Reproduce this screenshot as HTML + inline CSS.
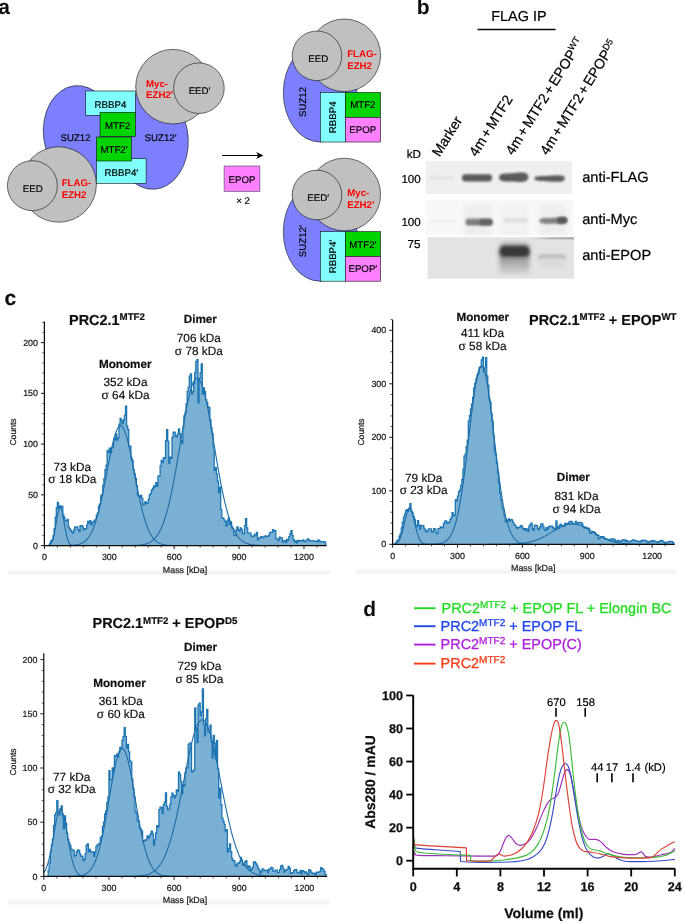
<!DOCTYPE html>
<html><head><meta charset="utf-8"><title>figure</title>
<style>html,body{margin:0;padding:0;background:#fff}svg{display:block}text{font-family:"Liberation Sans",sans-serif;text-rendering:geometricPrecision}#pb text{fill:#000;stroke:#000;stroke-width:0.22px}#pc text{stroke:#111;stroke-width:0.2px}#pd .mk{fill:#000;stroke:#000;stroke-width:0.2px}</style></head><body>
<svg width="685" height="924" viewBox="0 0 685 924" font-family='"Liberation Sans", sans-serif' fill="#111">
<rect width="685" height="924" fill="#fff"/>
<defs><filter id="soft" x="0" y="0" width="685" height="924" filterUnits="userSpaceOnUse"><feGaussianBlur stdDeviation="0.35"/></filter></defs>
<g filter="url(#soft)">
<text x="-1.7" y="14.3" font-size="21" font-weight="bold">a</text>
<text x="416.7" y="14.4" font-size="21" font-weight="bold">b</text>
<g id="pa" font-size="9.7" stroke-width="0.6">
<ellipse cx="80" cy="134" rx="36.5" ry="48.5" transform="rotate(-7 80 134)" fill="#7b80ff" stroke="#111"/>
<ellipse cx="151.5" cy="140" rx="36.8" ry="49.3" transform="rotate(-3 151.5 140)" fill="#7b80ff" stroke="#111"/>
<rect x="80" y="100" width="72" height="70" fill="#7b80ff"/>
<circle cx="173" cy="86.7" r="37.3" fill="#c0c0c0" stroke="#111"/>
<circle cx="198.9" cy="88.2" r="25.3" fill="#c0c0c0" stroke="#111"/>
<circle cx="58.7" cy="184.5" r="37.7" fill="#c0c0c0" stroke="#111"/>
<circle cx="32.4" cy="185.7" r="25" fill="#c0c0c0" stroke="#111"/>
<rect x="85.7" y="91" width="49.6" height="24.3" fill="#80ffff" stroke="#111"/>
<rect x="96.5" y="158.7" width="49.6" height="24.6" fill="#80ffff" stroke="#111"/>
<rect x="100" y="112.3" width="35.4" height="24" fill="#00d400" stroke="#111"/>
<rect x="96.4" y="137" width="35" height="24" fill="#00d400" stroke="#111"/>
<text x="110.5" y="107.6" text-anchor="middle" fill="#000" stroke="#000" stroke-width="0.18">RBBP4</text>
<text x="117.7" y="129" text-anchor="middle" fill="#000" stroke="#000" stroke-width="0.18">MTF2</text>
<text x="114" y="153.2" text-anchor="middle" fill="#000" stroke="#000" stroke-width="0.18">MTF2&#8242;</text>
<text x="121.3" y="176" text-anchor="middle" fill="#000" stroke="#000" stroke-width="0.18">RBBP4&#8242;</text>
<text x="75.5" y="140.5" text-anchor="middle" fill="#000" stroke="#000" stroke-width="0.18">SUZ12</text>
<text x="160.5" y="140.5" text-anchor="middle" fill="#000" stroke="#000" stroke-width="0.18">SUZ12&#8242;</text>
<text x="32.8" y="191.6" text-anchor="middle" fill="#000" stroke="#000" stroke-width="0.18">EED</text>
<text x="199.5" y="93.7" text-anchor="middle" fill="#000" stroke="#000" stroke-width="0.18">EED&#8242;</text>
<text x="61.7" y="186.3" text-anchor="start" fill="#ff0000" stroke="none" font-weight="bold" font-size="9.7">FLAG-</text>
<text x="61.7" y="198.1" text-anchor="start" fill="#ff0000" stroke="none" font-weight="bold" font-size="9.7">EZH2</text>
<text x="146" y="86.8" text-anchor="start" fill="#ff0000" stroke="none" font-weight="bold" font-size="9.7">Myc-</text>
<text x="146" y="98.3" text-anchor="start" fill="#ff0000" stroke="none" font-weight="bold" font-size="9.7">EZH2&#8242;</text>
<line x1="222" y1="155.5" x2="260" y2="155.5" stroke="#000" stroke-width="1.2"/>
<path d="M263.4 155.5 L256.2 151.9 L258.2 155.5 L256.2 159.1 Z" fill="#000" stroke="none"/>
<rect x="224.1" y="166" width="35.8" height="25.3" fill="#ff80ff" stroke="#446" />
<text x="242" y="183.4" text-anchor="middle" fill="#000" stroke="#000" stroke-width="0.18">EPOP</text>
<text x="243" y="204.4" text-anchor="middle" fill="#000" stroke="#000" stroke-width="0.18">&#215; 2</text>
<g transform="translate(0,0)">
<ellipse cx="320.1" cy="92.7" rx="36.8" ry="49.3" fill="#7b80ff" stroke="#111"/>
<circle cx="344.3" cy="55.3" r="36.3" fill="#c0c0c0" stroke="#111"/>
<circle cx="317" cy="55.8" r="24.8" fill="#c0c0c0" stroke="#111"/>
<rect x="320.3" y="92.4" width="25" height="49.6" fill="#80ffff" stroke="#111"/>
<rect x="345.3" y="92.4" width="35.3" height="24.9" fill="#00d400" stroke="#111"/>
<rect x="345.3" y="117.3" width="35.3" height="24.7" fill="#ff80ff" stroke="#111"/>
<text x="318.2" y="62.1" text-anchor="middle" fill="#000" stroke="#000" stroke-width="0.18">EED</text>
<text x="347.2" y="57.2" text-anchor="start" fill="#ff0000" stroke="none" font-weight="bold" font-size="9.7">FLAG-</text>
<text x="347.2" y="68.6" text-anchor="start" fill="#ff0000" stroke="none" font-weight="bold" font-size="9.7">EZH2</text>
<text x="362.8" y="108.4" text-anchor="middle" fill="#000" stroke="#000" stroke-width="0.18">MTF2</text>
<text x="362.8" y="132.8" text-anchor="middle" fill="#000" stroke="#000" stroke-width="0.18">EPOP</text>
<text transform="translate(306,102) rotate(-90)" text-anchor="middle" fill="#000" stroke="#000" stroke-width="0.18">SUZ12</text>
<text transform="translate(336,117.3) rotate(-90)" text-anchor="middle" fill="#000" stroke="#000" stroke-width="0.18">RBBP4</text>
</g>
<g transform="translate(0,139.2)">
<ellipse cx="320.1" cy="92.7" rx="36.8" ry="49.3" fill="#7b80ff" stroke="#111"/>
<circle cx="344.3" cy="55.3" r="36.3" fill="#c0c0c0" stroke="#111"/>
<circle cx="317" cy="55.8" r="24.8" fill="#c0c0c0" stroke="#111"/>
<rect x="320.3" y="92.4" width="25" height="49.6" fill="#80ffff" stroke="#111"/>
<rect x="345.3" y="92.4" width="35.3" height="24.9" fill="#00d400" stroke="#111"/>
<rect x="345.3" y="117.3" width="35.3" height="24.7" fill="#ff80ff" stroke="#111"/>
<text x="318.2" y="62.1" text-anchor="middle" fill="#000" stroke="#000" stroke-width="0.18">EED&#8242;</text>
<text x="347.2" y="57.2" text-anchor="start" fill="#ff0000" stroke="none" font-weight="bold" font-size="9.7">Myc-</text>
<text x="347.2" y="68.6" text-anchor="start" fill="#ff0000" stroke="none" font-weight="bold" font-size="9.7">EZH2&#8242;</text>
<text x="362.8" y="108.4" text-anchor="middle" fill="#000" stroke="#000" stroke-width="0.18">MTF2&#8242;</text>
<text x="362.8" y="132.8" text-anchor="middle" fill="#000" stroke="#000" stroke-width="0.18">EPOP&#8242;</text>
<text transform="translate(306,102) rotate(-90)" text-anchor="middle" fill="#000" stroke="#000" stroke-width="0.18">SUZ12&#8242;</text>
<text transform="translate(336,117.3) rotate(-90)" text-anchor="middle" fill="#000" stroke="#000" stroke-width="0.18">RBBP4&#8242;</text>
</g>
</g>
<g id="pb">
<text x="491.3" y="21" font-size="14.4">FLAG IP</text>
<line x1="477.5" y1="29.6" x2="555.6" y2="29.6" stroke="#111" stroke-width="1.5"/>
<text transform="translate(439.5,157.5) rotate(-58)" font-size="14.15">Marker</text>
<text transform="translate(476.5,157.5) rotate(-58)" font-size="14.15">4m<tspan dx="2.1">+</tspan><tspan dx="2.1">&#8203;</tspan>MTF2</text>
<text transform="translate(513,156) rotate(-58)" font-size="14.15">4m<tspan dx="2.1">+</tspan><tspan dx="2.1">&#8203;</tspan>MTF2<tspan dx="2.1">+</tspan><tspan dx="2.1">&#8203;</tspan>EPOP<tspan font-size="9" dy="-5">WT</tspan></text>
<text transform="translate(547.5,156) rotate(-58)" font-size="14.15">4m<tspan dx="2.1">+</tspan><tspan dx="2.1">&#8203;</tspan>MTF2<tspan dx="2.1">+</tspan><tspan dx="2.1">&#8203;</tspan>EPOP<tspan font-size="9" dy="-5">D5</tspan></text>
<text x="406.8" y="157.7" font-size="11.6">kD</text>
<text x="401.4" y="183" font-size="11.6">100</text>
<text x="401.4" y="225.6" font-size="11.6">100</text>
<text x="407.6" y="248.2" font-size="11.6">75</text>
<text x="582.2" y="182" font-size="14.6">anti-FLAG</text>
<text x="582.2" y="223.7" font-size="14.6">anti-Myc</text>
<text x="582.2" y="259.6" font-size="14.6">anti-EPOP</text>
<defs><filter id="b1" x="-20%" y="-60%" width="140%" height="220%"><feGaussianBlur stdDeviation="1.1 0.9"/></filter><filter id="b2" x="-20%" y="-80%" width="140%" height="260%"><feGaussianBlur stdDeviation="1.7 1.4"/></filter><filter id="b3" x="-30%" y="-80%" width="160%" height="260%"><feGaussianBlur stdDeviation="2.5 3.5"/></filter><filter id="b4" x="-30%" y="-80%" width="160%" height="260%"><feGaussianBlur stdDeviation="2.2 2.2"/></filter><clipPath id="g1"><rect x="425.5" y="161" width="146.6" height="33"/></clipPath><clipPath id="g2"><rect x="425.5" y="200" width="147.9" height="35.4"/></clipPath><clipPath id="g3"><rect x="427.6" y="237.2" width="146.4" height="41.5"/></clipPath><linearGradient id="smear" x1="0" y1="0" x2="0" y2="1"><stop offset="0" stop-color="#787878"/><stop offset="0.45" stop-color="#a8a8a8"/><stop offset="1" stop-color="#d4d4d4"/></linearGradient></defs>
<rect x="425.5" y="161" width="146.6" height="33" fill="#efefef"/>
<g clip-path="url(#g1)">
<rect x="430" y="176.8" width="24" height="2.4" rx="1.2" fill="#dedede" filter="url(#b1)"/>
<rect x="462" y="174.2" width="30" height="7.2" rx="3.4" fill="#5a5a5a" filter="url(#b1)"/>
<path d="M499 177.4 C499 172.6 506 173.6 513 173.2 C520 172.4 528.3 171.4 528.3 176.8 C528.3 183 521 182.4 513 181.6 C506 181.2 499 182 499 177.4Z" fill="#5a5a5a" filter="url(#b1)"/>
<path d="M534.4 178.4 C534.4 175.6 541 176.4 549 175.8 C557 175.2 564.8 174.6 564.8 178.4 C564.8 182.4 557 182 549 181.4 C541 180.8 534.4 181.2 534.4 178.4Z" fill="#5c5c5c" filter="url(#b1)"/>
</g>
<rect x="425.5" y="200" width="147.9" height="35.4" fill="#f8f8f8"/>
<g clip-path="url(#g2)">
<rect x="464" y="204" width="29" height="34" fill="#eeeeee" filter="url(#b3)"/>
<rect x="539" y="204" width="28" height="34" fill="#eeeeee" filter="url(#b3)"/>
<rect x="500" y="204" width="28" height="34" fill="#f2f2f2" filter="url(#b3)"/>
<rect x="430" y="220.3" width="26" height="2" fill="#ececec" filter="url(#b1)"/>
<rect x="465.4" y="218.6" width="27" height="7" rx="3" fill="#8c8c8c" filter="url(#b1)"/>
<rect x="479" y="219.2" width="13.4" height="6" rx="2.8" fill="#646464" filter="url(#b1)"/>
<rect x="467" y="221" width="12" height="3" rx="1.5" fill="#7a7a7a" filter="url(#b1)"/>
<rect x="503" y="218.6" width="25" height="3.6" rx="1.7" fill="#dadada" filter="url(#b2)"/>
<path d="M539.3 220.8 C539.3 217.2 548 218.2 556 217.8 C562 217.2 567.5 216.4 567.5 220.2 C567.5 224.2 562 224 556 223.8 C548 224 539.3 224.6 539.3 220.8Z" fill="#828282" filter="url(#b1)"/>
<rect x="557" y="217" width="10" height="6.4" rx="3" fill="#5a5a5a" filter="url(#b1)"/>
</g>
<rect x="427.6" y="237.2" width="146.4" height="41.5" fill="#e3e3e3"/>
<g clip-path="url(#g3)">
<rect x="499" y="243" width="31" height="14" rx="5" fill="#9a9a9a" filter="url(#b4)"/>
<rect x="499.5" y="252" width="30" height="22" fill="url(#smear)" filter="url(#b4)"/>
<rect x="499.8" y="246" width="29.6" height="10.6" rx="5" fill="#383838" filter="url(#b2)"/>
<rect x="538" y="254.6" width="28" height="5" rx="2.4" fill="#b6b6b6" filter="url(#b2)"/>
<rect x="540" y="258" width="25" height="10" fill="#dadada" filter="url(#b4)"/>
<defs><linearGradient id="tl" x1="0" y1="0" x2="1" y2="0"><stop offset="0" stop-color="#555" stop-opacity="0"/><stop offset="0.5" stop-color="#555" stop-opacity="0.9"/><stop offset="1" stop-color="#444"/></linearGradient></defs>
<rect x="530" y="237" width="45" height="1.3" fill="url(#tl)" filter="url(#b1)"/>
</g>
</g>
<g id="pc">
<defs><linearGradient id="fade" x1="0" y1="0" x2="0" y2="1"><stop offset="0" stop-color="#fff"/><stop offset="0.7" stop-color="#f2f2f2"/><stop offset="1" stop-color="#fafafa"/></linearGradient></defs>
<rect x="8" y="569" width="322" height="6" fill="url(#fade)"/>
<rect x="356" y="568" width="320" height="6" fill="url(#fade)"/>
<rect x="8" y="899" width="322" height="6" fill="url(#fade)"/>
<path d="M48.73 545.60V545.60H49.81V543.05H50.89V540.66H51.97V539.99H53.05V535.61H54.13V528.57H55.21V517.24H56.30V507.62H57.38V502.46H58.46V508.55H59.54V505.92H60.62V506.20H61.70V506.43H62.79V514.81H63.87V517.48H64.95V520.83H66.03V520.95H67.11V519.30H68.19V526.78H69.27V528.85H70.36V530.37H71.44V531.82H72.52V533.19H73.60V529.80H74.68V527.26H75.76V526.91H76.84V526.96H77.93V529.61H79.01V531.50H80.09V525.62H81.17V525.71H82.25V526.53H83.33V529.90H84.42V528.55H85.50V528.71H86.58V525.12H87.66V521.46H88.74V522.88H89.82V520.75H90.90V524.91H91.99V522.53H93.07V521.54H94.15V520.49H95.23V519.39H96.31V515.20H97.39V512.98H98.47V506.17H99.56V503.91H100.64V495.86H101.72V494.67H102.80V485.10H103.88V478.61H104.96V469.57H106.05V465.25H107.13V450.59H108.21V452.46H109.29V448.25H110.37V453.16H111.45V447.85H112.53V447.23H113.62V438.87H114.70V439.73H115.78V433.91H116.86V440.13H117.94V437.64H119.02V424.27H120.10V418.52H121.19V420.53H122.27V423.67H123.35V419.62H124.43V415.32H125.51V406.13H126.59V425.93H127.68V429.28H128.76V446.12H129.84V446.25H130.92V457.85H132.00V460.12H133.08V469.62H134.16V473.63H135.25V478.42H136.33V485.57H137.41V495.18H138.49V496.01H139.57V496.99H140.65V495.51H141.73V498.53H142.82V504.89H143.90V504.02H144.98V501.69H146.06V503.66H147.14V503.27H148.22V499.34H149.31V494.85H150.39V493.35H151.47V489.99H152.55V488.23H153.63V485.82H154.71V486.95H155.79V482.59H156.88V486.09H157.96V476.12H159.04V475.99H160.12V465.93H161.20V460.38H162.28V462.48H163.36V457.66H164.45V458.00H165.53V440.33H166.61V429.56H167.69V441.19H168.77V463.42H169.85V457.17H170.94V458.37H172.02V437.48H173.10V432.08H174.18V432.08H175.26V435.98H176.34V436.96H177.42V433.79H178.51V429.02H179.59V433.84H180.67V440.75H181.75V443.51H182.83V427.14H183.91V415.86H185.00V412.49H186.08V403.86H187.16V391.38H188.24V387.14H189.32V376.03H190.40V373.81H191.48V393.77H192.57V391.56H193.65V383.69H194.73V372.48H195.81V361.72H196.89V359.54H197.97V402.90H199.05V378.46H200.14V372.60H201.22V363.81H202.30V394.03H203.38V388.00H204.46V391.70H205.54V399.64H206.62V402.51H207.71V406.87H208.79V407.77H209.87V419.87H210.95V427.89H212.03V433.77H213.11V446.63H214.20V470.38H215.28V467.63H216.36V473.91H217.44V481.10H218.52V492.71H219.60V487.06H220.68V509.34H221.77V517.72H222.85V518.38H223.93V520.04H225.01V521.65H226.09V526.00H227.17V520.33H228.25V518.25H229.34V524.72H230.42V521.79H231.50V528.12H232.58V528.39H233.66V535.03H234.74V535.63H235.83V530.23H236.91V526.88H237.99V529.95H239.07V531.25H240.15V527.80H241.23V529.45H242.31V533.78H243.40V533.27H244.48V525.86H245.56V518.59H246.64V527.84H247.72V532.84H248.80V533.16H249.88V533.05H250.97V535.86H252.05V536.49H253.13V536.63H254.21V534.41H255.29V535.13H256.37V532.42H257.46V539.81H258.54V537.88H259.62V537.82H260.70V536.55H261.78V537.14H262.86V537.69H263.94V536.45H265.03V536.00H266.11V536.40H267.19V536.63H268.27V535.74H269.35V533.12H270.43V532.19H271.51V532.11H272.60V529.55H273.68V530.92H274.76V530.74H275.84V538.60H276.92V539.46H278.00V540.53H279.09V537.13H280.17V537.81H281.25V537.97H282.33V542.11H283.41V540.94H284.49V540.57H285.57V542.66H286.66V539.47H287.74V540.02H288.82V536.69H289.90V533.52H290.98V530.70H292.06V535.64H293.14V539.76H294.23V541.78H295.31V540.89H296.39V542.76H297.47V540.76H298.55V540.29H299.63V541.14H300.72V540.74H301.80V540.67H302.88V539.86H303.96V541.49H305.04V541.42H306.12V540.63H307.20V538.90H308.29V539.59H309.37V540.80H310.45V540.53H311.53V540.70H312.61V540.68H313.69V541.11H314.77V541.29H315.86V541.20H316.94V541.76H318.02V539.88H319.10V541.00H320.18V541.54H321.26V541.90H322.35V541.81H323.43V541.71H324.51V542.23H325.59V545.60Z" fill="#7ab0d4" stroke="none"/>
<path d="M48.73 545.60V545.60H49.81V543.05H50.89V540.66H51.97V539.99H53.05V535.61H54.13V528.57H55.21V517.24H56.30V507.62H57.38V502.46H58.46V508.55H59.54V505.92H60.62V506.20H61.70V506.43H62.79V514.81H63.87V517.48H64.95V520.83H66.03V520.95H67.11V519.30H68.19V526.78H69.27V528.85H70.36V530.37H71.44V531.82H72.52V533.19H73.60V529.80H74.68V527.26H75.76V526.91H76.84V526.96H77.93V529.61H79.01V531.50H80.09V525.62H81.17V525.71H82.25V526.53H83.33V529.90H84.42V528.55H85.50V528.71H86.58V525.12H87.66V521.46H88.74V522.88H89.82V520.75H90.90V524.91H91.99V522.53H93.07V521.54H94.15V520.49H95.23V519.39H96.31V515.20H97.39V512.98H98.47V506.17H99.56V503.91H100.64V495.86H101.72V494.67H102.80V485.10H103.88V478.61H104.96V469.57H106.05V465.25H107.13V450.59H108.21V452.46H109.29V448.25H110.37V453.16H111.45V447.85H112.53V447.23H113.62V438.87H114.70V439.73H115.78V433.91H116.86V440.13H117.94V437.64H119.02V424.27H120.10V418.52H121.19V420.53H122.27V423.67H123.35V419.62H124.43V415.32H125.51V406.13H126.59V425.93H127.68V429.28H128.76V446.12H129.84V446.25H130.92V457.85H132.00V460.12H133.08V469.62H134.16V473.63H135.25V478.42H136.33V485.57H137.41V495.18H138.49V496.01H139.57V496.99H140.65V495.51H141.73V498.53H142.82V504.89H143.90V504.02H144.98V501.69H146.06V503.66H147.14V503.27H148.22V499.34H149.31V494.85H150.39V493.35H151.47V489.99H152.55V488.23H153.63V485.82H154.71V486.95H155.79V482.59H156.88V486.09H157.96V476.12H159.04V475.99H160.12V465.93H161.20V460.38H162.28V462.48H163.36V457.66H164.45V458.00H165.53V440.33H166.61V429.56H167.69V441.19H168.77V463.42H169.85V457.17H170.94V458.37H172.02V437.48H173.10V432.08H174.18V432.08H175.26V435.98H176.34V436.96H177.42V433.79H178.51V429.02H179.59V433.84H180.67V440.75H181.75V443.51H182.83V427.14H183.91V415.86H185.00V412.49H186.08V403.86H187.16V391.38H188.24V387.14H189.32V376.03H190.40V373.81H191.48V393.77H192.57V391.56H193.65V383.69H194.73V372.48H195.81V361.72H196.89V359.54H197.97V402.90H199.05V378.46H200.14V372.60H201.22V363.81H202.30V394.03H203.38V388.00H204.46V391.70H205.54V399.64H206.62V402.51H207.71V406.87H208.79V407.77H209.87V419.87H210.95V427.89H212.03V433.77H213.11V446.63H214.20V470.38H215.28V467.63H216.36V473.91H217.44V481.10H218.52V492.71H219.60V487.06H220.68V509.34H221.77V517.72H222.85V518.38H223.93V520.04H225.01V521.65H226.09V526.00H227.17V520.33H228.25V518.25H229.34V524.72H230.42V521.79H231.50V528.12H232.58V528.39H233.66V535.03H234.74V535.63H235.83V530.23H236.91V526.88H237.99V529.95H239.07V531.25H240.15V527.80H241.23V529.45H242.31V533.78H243.40V533.27H244.48V525.86H245.56V518.59H246.64V527.84H247.72V532.84H248.80V533.16H249.88V533.05H250.97V535.86H252.05V536.49H253.13V536.63H254.21V534.41H255.29V535.13H256.37V532.42H257.46V539.81H258.54V537.88H259.62V537.82H260.70V536.55H261.78V537.14H262.86V537.69H263.94V536.45H265.03V536.00H266.11V536.40H267.19V536.63H268.27V535.74H269.35V533.12H270.43V532.19H271.51V532.11H272.60V529.55H273.68V530.92H274.76V530.74H275.84V538.60H276.92V539.46H278.00V540.53H279.09V537.13H280.17V537.81H281.25V537.97H282.33V542.11H283.41V540.94H284.49V540.57H285.57V542.66H286.66V539.47H287.74V540.02H288.82V536.69H289.90V533.52H290.98V530.70H292.06V535.64H293.14V539.76H294.23V541.78H295.31V540.89H296.39V542.76H297.47V540.76H298.55V540.29H299.63V541.14H300.72V540.74H301.80V540.67H302.88V539.86H303.96V541.49H305.04V541.42H306.12V540.63H307.20V538.90H308.29V539.59H309.37V540.80H310.45V540.53H311.53V540.70H312.61V540.68H313.69V541.11H314.77V541.29H315.86V541.20H316.94V541.76H318.02V539.88H319.10V541.00H320.18V541.54H321.26V541.90H322.35V541.81H323.43V541.71H324.51V542.23H325.59V545.60" fill="none" stroke="#1f77b4" stroke-width="1.3" stroke-linejoin="miter"/>
<path d="M44.40 545.59 L45.27 545.58 L46.13 545.54 L47.00 545.48 L47.86 545.34 L48.73 545.09 L49.59 544.65 L50.46 543.91 L51.32 542.72 L52.19 540.94 L53.05 538.42 L53.92 535.07 L54.78 530.90 L55.65 526.07 L56.51 520.91 L57.38 515.88 L58.24 511.56 L59.11 508.49 L59.97 507.09 L60.84 507.56 L61.70 509.84 L62.57 513.60 L63.43 518.34 L64.30 523.50 L65.16 528.55 L66.03 533.08 L66.90 536.85 L67.76 539.78 L68.63 541.91 L69.49 543.38 L70.36 544.32 L71.22 544.90 L72.09 545.24 L72.95 545.42 L73.82 545.52 L74.68 545.56 L75.55 545.58 L76.41 545.59" fill="none" stroke="#1c6ca8" stroke-width="1.1"/>
<path d="M62.40 545.58 L63.26 545.58 L64.13 545.57 L64.99 545.56 L65.86 545.55 L66.72 545.54 L67.59 545.52 L68.45 545.50 L69.32 545.47 L70.18 545.44 L71.05 545.40 L71.91 545.35 L72.78 545.29 L73.64 545.21 L74.51 545.12 L75.37 545.02 L76.24 544.88 L77.10 544.73 L77.97 544.54 L78.83 544.32 L79.70 544.06 L80.57 543.75 L81.43 543.38 L82.30 542.96 L83.16 542.47 L84.03 541.90 L84.89 541.25 L85.76 540.50 L86.62 539.64 L87.49 538.67 L88.35 537.57 L89.22 536.34 L90.08 534.95 L90.95 533.40 L91.81 531.69 L92.68 529.79 L93.54 527.71 L94.41 525.43 L95.27 522.95 L96.14 520.26 L97.00 517.36 L97.87 514.26 L98.73 510.95 L99.60 507.44 L100.46 503.74 L101.33 499.86 L102.20 495.81 L103.06 491.62 L103.93 487.30 L104.79 482.88 L105.66 478.39 L106.52 473.86 L107.39 469.33 L108.25 464.82 L109.12 460.38 L109.98 456.04 L110.85 451.86 L111.71 447.85 L112.58 444.08 L113.44 440.57 L114.31 437.36 L115.17 434.49 L116.04 431.99 L116.90 429.89 L117.77 428.20 L118.63 426.96 L119.50 426.17 L120.36 425.84 L121.23 425.98 L122.09 426.59 L122.96 427.65 L123.83 429.16 L124.69 431.10 L125.56 433.45 L126.42 436.17 L127.29 439.25 L128.15 442.64 L129.02 446.31 L129.88 450.23 L130.75 454.35 L131.61 458.63 L132.48 463.03 L133.34 467.52 L134.21 472.05 L135.07 476.59 L135.94 481.09 L136.80 485.55 L137.67 489.91 L138.53 494.15 L139.40 498.26 L140.26 502.21 L141.13 505.98 L141.99 509.57 L142.86 512.96 L143.72 516.15 L144.59 519.13 L145.46 521.90 L146.32 524.46 L147.19 526.82 L148.05 528.98 L148.92 530.95 L149.78 532.74 L150.65 534.35 L151.51 535.80 L152.38 537.10 L153.24 538.25 L154.11 539.27 L154.97 540.17 L155.84 540.96 L156.70 541.65 L157.57 542.25 L158.43 542.77 L159.30 543.22 L160.16 543.61 L161.03 543.94 L161.89 544.22 L162.76 544.46 L163.62 544.66 L164.49 544.82 L165.35 544.97 L166.22 545.08 L167.09 545.18 L167.95 545.26 L168.82 545.33 L169.68 545.38 L170.55 545.42 L171.41 545.46 L172.28 545.49 L173.14 545.51 L174.01 545.53 L174.87 545.55 L175.74 545.56 L176.60 545.57 L177.47 545.57 L178.33 545.58" fill="none" stroke="#1c6ca8" stroke-width="1.1"/>
<path d="M126.25 545.58 L127.11 545.57 L127.98 545.56 L128.84 545.55 L129.71 545.54 L130.57 545.53 L131.44 545.51 L132.30 545.50 L133.17 545.47 L134.03 545.45 L134.90 545.41 L135.77 545.37 L136.63 545.33 L137.50 545.27 L138.36 545.21 L139.23 545.13 L140.09 545.05 L140.96 544.94 L141.82 544.82 L142.69 544.68 L143.55 544.51 L144.42 544.32 L145.28 544.10 L146.15 543.85 L147.01 543.56 L147.88 543.23 L148.74 542.85 L149.61 542.42 L150.47 541.93 L151.34 541.37 L152.20 540.75 L153.07 540.05 L153.93 539.26 L154.80 538.38 L155.66 537.40 L156.53 536.31 L157.40 535.11 L158.26 533.78 L159.13 532.31 L159.99 530.71 L160.86 528.95 L161.72 527.04 L162.59 524.96 L163.45 522.70 L164.32 520.27 L165.18 517.65 L166.05 514.84 L166.91 511.84 L167.78 508.64 L168.64 505.25 L169.51 501.66 L170.37 497.88 L171.24 493.91 L172.10 489.75 L172.97 485.42 L173.83 480.93 L174.70 476.28 L175.56 471.49 L176.43 466.58 L177.29 461.56 L178.16 456.46 L179.03 451.30 L179.89 446.10 L180.76 440.90 L181.62 435.71 L182.49 430.56 L183.35 425.49 L184.22 420.53 L185.08 415.70 L185.95 411.04 L186.81 406.58 L187.68 402.35 L188.54 398.38 L189.41 394.69 L190.27 391.32 L191.14 388.29 L192.00 385.62 L192.87 383.33 L193.73 381.44 L194.60 379.97 L195.46 378.92 L196.33 378.30 L197.19 378.13 L198.06 378.39 L198.92 379.09 L199.79 380.23 L200.66 381.79 L201.52 383.76 L202.39 386.12 L203.25 388.87 L204.12 391.97 L204.98 395.40 L205.85 399.15 L206.71 403.17 L207.58 407.45 L208.44 411.96 L209.31 416.65 L210.17 421.51 L211.04 426.50 L211.90 431.58 L212.77 436.74 L213.63 441.94 L214.50 447.15 L215.36 452.34 L216.23 457.49 L217.09 462.57 L217.96 467.57 L218.82 472.46 L219.69 477.22 L220.55 481.84 L221.42 486.30 L222.29 490.60 L223.15 494.72 L224.02 498.65 L224.88 502.40 L225.75 505.95 L226.61 509.30 L227.48 512.46 L228.34 515.42 L229.21 518.19 L230.07 520.77 L230.94 523.17 L231.80 525.39 L232.67 527.43 L233.53 529.31 L234.40 531.04 L235.26 532.62 L236.13 534.05 L236.99 535.36 L237.86 536.54 L238.72 537.61 L239.59 538.57 L240.45 539.43 L241.32 540.20 L242.18 540.88 L243.05 541.49 L243.92 542.03 L244.78 542.51 L245.65 542.93 L246.51 543.30 L247.38 543.62 L248.24 543.90 L249.11 544.15 L249.97 544.36 L250.84 544.55 L251.70 544.71 L252.57 544.85 L253.43 544.96 L254.30 545.06 L255.16 545.15 L256.03 545.22 L256.89 545.29 L257.76 545.34 L258.62 545.38 L259.49 545.42 L260.35 545.45 L261.22 545.48 L262.08 545.50 L262.95 545.52 L263.81 545.53 L264.68 545.54 L265.55 545.56 L266.41 545.56 L267.28 545.57" fill="none" stroke="#1c6ca8" stroke-width="1.1"/>
<line x1="44.4" y1="321.5" x2="44.4" y2="546.2" stroke="#111" stroke-width="1.25"/>
<line x1="43.8" y1="545.6" x2="326.59" y2="545.6" stroke="#111" stroke-width="1.25"/>
<line x1="41.0" y1="545.60" x2="44.4" y2="545.60" stroke="#111" stroke-width="0.95"/>
<text x="38.0" y="548.70" text-anchor="end" font-size="8.9" fill="#222">0</text>
<line x1="42.4" y1="535.45" x2="44.4" y2="535.45" stroke="#111" stroke-width="0.75"/>
<line x1="42.4" y1="525.30" x2="44.4" y2="525.30" stroke="#111" stroke-width="0.75"/>
<line x1="42.4" y1="515.15" x2="44.4" y2="515.15" stroke="#111" stroke-width="0.75"/>
<line x1="42.4" y1="505.00" x2="44.4" y2="505.00" stroke="#111" stroke-width="0.75"/>
<line x1="41.0" y1="494.85" x2="44.4" y2="494.85" stroke="#111" stroke-width="0.95"/>
<text x="38.0" y="497.95" text-anchor="end" font-size="8.9" fill="#222">50</text>
<line x1="42.4" y1="484.70" x2="44.4" y2="484.70" stroke="#111" stroke-width="0.75"/>
<line x1="42.4" y1="474.55" x2="44.4" y2="474.55" stroke="#111" stroke-width="0.75"/>
<line x1="42.4" y1="464.40" x2="44.4" y2="464.40" stroke="#111" stroke-width="0.75"/>
<line x1="42.4" y1="454.25" x2="44.4" y2="454.25" stroke="#111" stroke-width="0.75"/>
<line x1="41.0" y1="444.10" x2="44.4" y2="444.10" stroke="#111" stroke-width="0.95"/>
<text x="38.0" y="447.20" text-anchor="end" font-size="8.9" fill="#222">100</text>
<line x1="42.4" y1="433.95" x2="44.4" y2="433.95" stroke="#111" stroke-width="0.75"/>
<line x1="42.4" y1="423.80" x2="44.4" y2="423.80" stroke="#111" stroke-width="0.75"/>
<line x1="42.4" y1="413.65" x2="44.4" y2="413.65" stroke="#111" stroke-width="0.75"/>
<line x1="42.4" y1="403.50" x2="44.4" y2="403.50" stroke="#111" stroke-width="0.75"/>
<line x1="41.0" y1="393.35" x2="44.4" y2="393.35" stroke="#111" stroke-width="0.95"/>
<text x="38.0" y="396.45" text-anchor="end" font-size="8.9" fill="#222">150</text>
<line x1="42.4" y1="383.20" x2="44.4" y2="383.20" stroke="#111" stroke-width="0.75"/>
<line x1="42.4" y1="373.05" x2="44.4" y2="373.05" stroke="#111" stroke-width="0.75"/>
<line x1="42.4" y1="362.90" x2="44.4" y2="362.90" stroke="#111" stroke-width="0.75"/>
<line x1="42.4" y1="352.75" x2="44.4" y2="352.75" stroke="#111" stroke-width="0.75"/>
<line x1="41.0" y1="342.60" x2="44.4" y2="342.60" stroke="#111" stroke-width="0.95"/>
<text x="38.0" y="345.70" text-anchor="end" font-size="8.9" fill="#222">200</text>
<line x1="42.4" y1="332.45" x2="44.4" y2="332.45" stroke="#111" stroke-width="0.75"/>
<line x1="42.4" y1="322.30" x2="44.4" y2="322.30" stroke="#111" stroke-width="0.75"/>
<line x1="44.40" y1="545.6" x2="44.40" y2="549.0" stroke="#111" stroke-width="0.95"/>
<text x="44.40" y="560.2" text-anchor="middle" font-size="8.9" fill="#222">0</text>
<line x1="57.38" y1="545.6" x2="57.38" y2="547.6" stroke="#111" stroke-width="0.75"/>
<line x1="70.36" y1="545.6" x2="70.36" y2="547.6" stroke="#111" stroke-width="0.75"/>
<line x1="83.33" y1="545.6" x2="83.33" y2="547.6" stroke="#111" stroke-width="0.75"/>
<line x1="96.31" y1="545.6" x2="96.31" y2="547.6" stroke="#111" stroke-width="0.75"/>
<line x1="109.29" y1="545.6" x2="109.29" y2="549.0" stroke="#111" stroke-width="0.95"/>
<text x="109.29" y="560.2" text-anchor="middle" font-size="8.9" fill="#222">300</text>
<line x1="122.27" y1="545.6" x2="122.27" y2="547.6" stroke="#111" stroke-width="0.75"/>
<line x1="135.25" y1="545.6" x2="135.25" y2="547.6" stroke="#111" stroke-width="0.75"/>
<line x1="148.22" y1="545.6" x2="148.22" y2="547.6" stroke="#111" stroke-width="0.75"/>
<line x1="161.20" y1="545.6" x2="161.20" y2="547.6" stroke="#111" stroke-width="0.75"/>
<line x1="174.18" y1="545.6" x2="174.18" y2="549.0" stroke="#111" stroke-width="0.95"/>
<text x="174.18" y="560.2" text-anchor="middle" font-size="8.9" fill="#222">600</text>
<line x1="187.16" y1="545.6" x2="187.16" y2="547.6" stroke="#111" stroke-width="0.75"/>
<line x1="200.14" y1="545.6" x2="200.14" y2="547.6" stroke="#111" stroke-width="0.75"/>
<line x1="213.11" y1="545.6" x2="213.11" y2="547.6" stroke="#111" stroke-width="0.75"/>
<line x1="226.09" y1="545.6" x2="226.09" y2="547.6" stroke="#111" stroke-width="0.75"/>
<line x1="239.07" y1="545.6" x2="239.07" y2="549.0" stroke="#111" stroke-width="0.95"/>
<text x="239.07" y="560.2" text-anchor="middle" font-size="8.9" fill="#222">900</text>
<line x1="252.05" y1="545.6" x2="252.05" y2="547.6" stroke="#111" stroke-width="0.75"/>
<line x1="265.03" y1="545.6" x2="265.03" y2="547.6" stroke="#111" stroke-width="0.75"/>
<line x1="278.00" y1="545.6" x2="278.00" y2="547.6" stroke="#111" stroke-width="0.75"/>
<line x1="290.98" y1="545.6" x2="290.98" y2="547.6" stroke="#111" stroke-width="0.75"/>
<line x1="303.96" y1="545.6" x2="303.96" y2="549.0" stroke="#111" stroke-width="0.95"/>
<text x="303.96" y="560.2" text-anchor="middle" font-size="8.9" fill="#222">1200</text>
<line x1="316.94" y1="545.6" x2="316.94" y2="547.6" stroke="#111" stroke-width="0.75"/>
<text x="185.00" y="572.6" text-anchor="middle" font-size="8.9" fill="#222">Mass [kDa]</text>
<text transform="translate(15.8,432) rotate(-90)" text-anchor="middle" font-size="8.6" fill="#222">Counts</text>
<text x="4.4" y="305.2" font-size="21" font-weight="bold">c</text>
<text x="69" y="324.7" font-size="14.45" font-weight="bold">PRC2.1<tspan font-size="9.7" dy="-4.6">MTF2</tspan></text>
<text x="125.2" y="368" text-anchor="middle" font-size="11.7" font-weight="bold">Monomer</text>
<text x="125.5" y="386.0" text-anchor="middle" font-size="11.8">352 kDa</text>
<text x="125.5" y="398.7" text-anchor="middle" font-size="11.8">&#963; 64 kDa</text>
<text x="200.3" y="322.8" text-anchor="middle" font-size="11.7" font-weight="bold">Dimer</text>
<text x="198.8" y="342.0" text-anchor="middle" font-size="11.8">706 kDa</text>
<text x="198.8" y="354.7" text-anchor="middle" font-size="11.8">&#963; 78 kDa</text>
<text x="72.3" y="470.7" text-anchor="middle" font-size="11.8">73 kDa</text>
<text x="72.3" y="483.4" text-anchor="middle" font-size="11.8">&#963; 18 kDa</text>
<path d="M394.76 544.30V544.30H395.84V542.45H396.93V540.21H398.01V540.18H399.09V536.14H400.17V533.53H401.25V527.92H402.33V522.21H403.42V517.18H404.50V514.19H405.58V510.54H406.66V509.59H407.74V511.26H408.82V508.49H409.90V503.64H410.99V511.21H412.07V512.97H413.15V516.65H414.23V519.47H415.31V525.41H416.39V526.69H417.47V520.73H418.56V525.10H419.64V528.98H420.72V525.40H421.80V525.71H422.88V526.00H423.96V528.84H425.05V530.11H426.13V531.83H427.21V531.16H428.29V528.78H429.37V528.91H430.45V528.91H431.53V532.04H432.62V531.50H433.70V528.57H434.78V529.03H435.86V532.84H436.94V533.68H438.02V528.69H439.10V528.72H440.19V526.92H441.27V527.38H442.35V527.94H443.43V523.62H444.51V521.14H445.59V521.02H446.68V523.01H447.76V522.60H448.84V522.26H449.92V519.47H451.00V517.44H452.08V512.62H453.16V515.55H454.25V515.27H455.33V499.54H456.41V500.85H457.49V496.10H458.57V491.36H459.65V489.92H460.73V485.37H461.82V479.33H462.90V469.20H463.98V456.03H465.06V454.04H466.14V446.68H467.22V440.07H468.31V421.20H469.39V415.56H470.47V408.89H471.55V403.94H472.63V397.21H473.71V387.94H474.79V383.21H475.88V378.79H476.96V375.22H478.04V373.51H479.12V367.68H480.20V366.67H481.28V359.99H482.36V357.24H483.45V371.80H484.53V367.94H485.61V357.72H486.69V375.80H487.77V385.23H488.85V398.60H489.94V402.18H491.02V413.45H492.10V421.16H493.18V435.93H494.26V450.00H495.34V454.66H496.42V463.22H497.51V473.22H498.59V483.17H499.67V493.06H500.75V499.93H501.83V507.32H502.91V509.65H503.99V515.16H505.08V521.24H506.16V522.19H507.24V520.13H508.32V519.01H509.40V521.18H510.48V519.62H511.56V519.96H512.65V522.03H513.73V524.35H514.81V525.31H515.89V527.04H516.97V528.65H518.05V527.34H519.14V527.45H520.22V525.59H521.30V525.79H522.38V528.27H523.46V528.76H524.54V530.38H525.62V528.73H526.71V529.50H527.79V531.28H528.87V526.21H529.95V524.60H531.03V523.14H532.11V528.72H533.20V530.44H534.28V525.18H535.36V525.29H536.44V525.65H537.52V528.77H538.60V529.62H539.68V527.00H540.77V524.25H541.85V523.98H542.93V526.33H544.01V529.33H545.09V530.58H546.17V527.73H547.25V529.10H548.34V526.97H549.42V526.20H550.50V526.69H551.58V526.15H552.66V527.74H553.74V528.50H554.83V529.43H555.91V520.78H556.99V526.98H558.07V528.65H559.15V525.31H560.23V524.09H561.31V525.48H562.40V525.63H563.48V526.33H564.56V523.45H565.64V523.96H566.72V523.52H567.80V524.26H568.88V521.99H569.97V521.45H571.05V521.47H572.13V523.23H573.21V524.04H574.29V524.20H575.37V521.51H576.46V523.09H577.54V522.59H578.62V522.92H579.70V522.40H580.78V522.69H581.86V524.18H582.94V526.53H584.03V528.20H585.11V527.08H586.19V528.01H587.27V528.19H588.35V528.47H589.43V532.68H590.51V533.46H591.60V532.47H592.68V531.71H593.76V532.20H594.84V533.19H595.92V534.96H597.00V535.19H598.09V538.95H599.17V538.18H600.25V537.40H601.33V536.88H602.41V536.72H603.49V537.20H604.57V538.95H605.66V538.69H606.74V539.46H607.82V539.38H608.90V539.91H609.98V540.42H611.06V538.95H612.14V539.22H613.23V538.78H614.31V539.78H615.39V542.05H616.47V541.04H617.55V540.33H618.63V541.02H619.72V541.26H620.80V541.11H621.88V540.46H622.96V539.67H624.04V539.92H625.12V541.30H626.20V540.36H627.29V541.89H628.37V541.50H629.45V541.65H630.53V541.19H631.61V540.56H632.69V539.89H633.77V540.19H634.86V540.56H635.94V540.86H637.02V541.41H638.10V541.42H639.18V541.95H640.26V541.27H641.35V540.76H642.43V540.06H643.51V540.41H644.59V540.42H645.67V540.82H646.75V541.73H647.83V542.62H648.92V541.93H650.00V541.24H651.08V541.66H652.16V540.46H653.24V540.86H654.32V541.09H655.40V541.60H656.49V541.82H657.57V542.50H658.65V541.97H659.73V540.95H660.81V540.28H661.89V540.74H662.98V541.89H664.06V542.77H665.14V543.24H666.22V542.16H667.30V542.18H668.38V541.75H669.46V541.51H670.55V541.38H671.63V541.63H672.71V542.58H673.79V544.30Z" fill="#7ab0d4" stroke="none"/>
<path d="M394.76 544.30V544.30H395.84V542.45H396.93V540.21H398.01V540.18H399.09V536.14H400.17V533.53H401.25V527.92H402.33V522.21H403.42V517.18H404.50V514.19H405.58V510.54H406.66V509.59H407.74V511.26H408.82V508.49H409.90V503.64H410.99V511.21H412.07V512.97H413.15V516.65H414.23V519.47H415.31V525.41H416.39V526.69H417.47V520.73H418.56V525.10H419.64V528.98H420.72V525.40H421.80V525.71H422.88V526.00H423.96V528.84H425.05V530.11H426.13V531.83H427.21V531.16H428.29V528.78H429.37V528.91H430.45V528.91H431.53V532.04H432.62V531.50H433.70V528.57H434.78V529.03H435.86V532.84H436.94V533.68H438.02V528.69H439.10V528.72H440.19V526.92H441.27V527.38H442.35V527.94H443.43V523.62H444.51V521.14H445.59V521.02H446.68V523.01H447.76V522.60H448.84V522.26H449.92V519.47H451.00V517.44H452.08V512.62H453.16V515.55H454.25V515.27H455.33V499.54H456.41V500.85H457.49V496.10H458.57V491.36H459.65V489.92H460.73V485.37H461.82V479.33H462.90V469.20H463.98V456.03H465.06V454.04H466.14V446.68H467.22V440.07H468.31V421.20H469.39V415.56H470.47V408.89H471.55V403.94H472.63V397.21H473.71V387.94H474.79V383.21H475.88V378.79H476.96V375.22H478.04V373.51H479.12V367.68H480.20V366.67H481.28V359.99H482.36V357.24H483.45V371.80H484.53V367.94H485.61V357.72H486.69V375.80H487.77V385.23H488.85V398.60H489.94V402.18H491.02V413.45H492.10V421.16H493.18V435.93H494.26V450.00H495.34V454.66H496.42V463.22H497.51V473.22H498.59V483.17H499.67V493.06H500.75V499.93H501.83V507.32H502.91V509.65H503.99V515.16H505.08V521.24H506.16V522.19H507.24V520.13H508.32V519.01H509.40V521.18H510.48V519.62H511.56V519.96H512.65V522.03H513.73V524.35H514.81V525.31H515.89V527.04H516.97V528.65H518.05V527.34H519.14V527.45H520.22V525.59H521.30V525.79H522.38V528.27H523.46V528.76H524.54V530.38H525.62V528.73H526.71V529.50H527.79V531.28H528.87V526.21H529.95V524.60H531.03V523.14H532.11V528.72H533.20V530.44H534.28V525.18H535.36V525.29H536.44V525.65H537.52V528.77H538.60V529.62H539.68V527.00H540.77V524.25H541.85V523.98H542.93V526.33H544.01V529.33H545.09V530.58H546.17V527.73H547.25V529.10H548.34V526.97H549.42V526.20H550.50V526.69H551.58V526.15H552.66V527.74H553.74V528.50H554.83V529.43H555.91V520.78H556.99V526.98H558.07V528.65H559.15V525.31H560.23V524.09H561.31V525.48H562.40V525.63H563.48V526.33H564.56V523.45H565.64V523.96H566.72V523.52H567.80V524.26H568.88V521.99H569.97V521.45H571.05V521.47H572.13V523.23H573.21V524.04H574.29V524.20H575.37V521.51H576.46V523.09H577.54V522.59H578.62V522.92H579.70V522.40H580.78V522.69H581.86V524.18H582.94V526.53H584.03V528.20H585.11V527.08H586.19V528.01H587.27V528.19H588.35V528.47H589.43V532.68H590.51V533.46H591.60V532.47H592.68V531.71H593.76V532.20H594.84V533.19H595.92V534.96H597.00V535.19H598.09V538.95H599.17V538.18H600.25V537.40H601.33V536.88H602.41V536.72H603.49V537.20H604.57V538.95H605.66V538.69H606.74V539.46H607.82V539.38H608.90V539.91H609.98V540.42H611.06V538.95H612.14V539.22H613.23V538.78H614.31V539.78H615.39V542.05H616.47V541.04H617.55V540.33H618.63V541.02H619.72V541.26H620.80V541.11H621.88V540.46H622.96V539.67H624.04V539.92H625.12V541.30H626.20V540.36H627.29V541.89H628.37V541.50H629.45V541.65H630.53V541.19H631.61V540.56H632.69V539.89H633.77V540.19H634.86V540.56H635.94V540.86H637.02V541.41H638.10V541.42H639.18V541.95H640.26V541.27H641.35V540.76H642.43V540.06H643.51V540.41H644.59V540.42H645.67V540.82H646.75V541.73H647.83V542.62H648.92V541.93H650.00V541.24H651.08V541.66H652.16V540.46H653.24V540.86H654.32V541.09H655.40V541.60H656.49V541.82H657.57V542.50H658.65V541.97H659.73V540.95H660.81V540.28H661.89V540.74H662.98V541.89H664.06V542.77H665.14V543.24H666.22V542.16H667.30V542.18H668.38V541.75H669.46V541.51H670.55V541.38H671.63V541.63H672.71V542.58H673.79V544.30" fill="none" stroke="#1f77b4" stroke-width="1.3" stroke-linejoin="miter"/>
<path d="M392.60 544.20 L393.47 544.12 L394.33 543.99 L395.20 543.78 L396.06 543.45 L396.93 542.94 L397.79 542.21 L398.66 541.19 L399.52 539.79 L400.39 537.96 L401.25 535.66 L402.12 532.87 L402.98 529.63 L403.85 526.04 L404.71 522.23 L405.58 518.44 L406.44 514.89 L407.31 511.85 L408.17 509.57 L409.04 508.23 L409.90 507.95 L410.77 508.77 L411.63 510.60 L412.50 513.29 L413.36 516.62 L414.23 520.32 L415.10 524.15 L415.96 527.87 L416.83 531.30 L417.69 534.33 L418.56 536.87 L419.42 538.93 L420.29 540.54 L421.15 541.74 L422.02 542.61 L422.88 543.22 L423.75 543.63 L424.61 543.90 L425.48 544.06 L426.34 544.17 L427.21 544.23 L428.07 544.26 L428.94 544.28 L429.80 544.29" fill="none" stroke="#1c6ca8" stroke-width="1.1"/>
<path d="M428.81 544.27 L429.67 544.26 L430.54 544.25 L431.40 544.24 L432.27 544.22 L433.13 544.19 L434.00 544.16 L434.87 544.12 L435.73 544.07 L436.60 544.01 L437.46 543.92 L438.33 543.82 L439.19 543.70 L440.06 543.54 L440.92 543.35 L441.79 543.11 L442.65 542.83 L443.52 542.48 L444.38 542.06 L445.25 541.56 L446.11 540.96 L446.98 540.26 L447.84 539.43 L448.71 538.45 L449.57 537.31 L450.44 535.99 L451.30 534.46 L452.17 532.72 L453.03 530.72 L453.90 528.46 L454.76 525.91 L455.63 523.05 L456.50 519.86 L457.36 516.32 L458.23 512.43 L459.09 508.16 L459.96 503.52 L460.82 498.50 L461.69 493.11 L462.55 487.36 L463.42 481.25 L464.28 474.83 L465.15 468.11 L466.01 461.15 L466.88 453.97 L467.74 446.64 L468.61 439.22 L469.47 431.77 L470.34 424.37 L471.20 417.08 L472.07 410.00 L472.93 403.19 L473.80 396.73 L474.66 390.72 L475.53 385.22 L476.39 380.30 L477.26 376.03 L478.13 372.47 L478.99 369.67 L479.86 367.67 L480.72 366.49 L481.59 366.15 L482.45 366.66 L483.32 368.00 L484.18 370.17 L485.05 373.13 L485.91 376.83 L486.78 381.23 L487.64 386.27 L488.51 391.88 L489.37 397.99 L490.24 404.52 L491.10 411.39 L491.97 418.53 L492.83 425.84 L493.70 433.26 L494.56 440.71 L495.43 448.12 L496.29 455.42 L497.16 462.56 L498.02 469.48 L498.89 476.14 L499.76 482.50 L500.62 488.53 L501.49 494.22 L502.35 499.54 L503.22 504.48 L504.08 509.04 L504.95 513.23 L505.81 517.06 L506.68 520.52 L507.54 523.64 L508.41 526.44 L509.27 528.93 L510.14 531.14 L511.00 533.08 L511.87 534.79 L512.73 536.27 L513.60 537.55 L514.46 538.66 L515.33 539.60 L516.19 540.41 L517.06 541.09 L517.92 541.67 L518.79 542.15 L519.65 542.55 L520.52 542.89 L521.39 543.16 L522.25 543.39 L523.12 543.57 L523.98 543.72 L524.85 543.84 L525.71 543.94 L526.58 544.02 L527.44 544.08 L528.31 544.13 L529.17 544.17 L530.04 544.20 L530.90 544.22 L531.77 544.24 L532.63 544.26 L533.50 544.27" fill="none" stroke="#1c6ca8" stroke-width="1.1"/>
<path d="M486.95 544.30 L487.82 544.30 L488.68 544.30 L489.55 544.29 L490.41 544.29 L491.28 544.29 L492.14 544.29 L493.01 544.29 L493.87 544.29 L494.74 544.29 L495.60 544.28 L496.47 544.28 L497.33 544.28 L498.20 544.27 L499.06 544.27 L499.93 544.26 L500.79 544.26 L501.66 544.25 L502.52 544.24 L503.39 544.24 L504.25 544.23 L505.12 544.21 L505.98 544.20 L506.85 544.19 L507.71 544.17 L508.58 544.15 L509.45 544.13 L510.31 544.11 L511.18 544.08 L512.04 544.05 L512.91 544.02 L513.77 543.98 L514.64 543.94 L515.50 543.89 L516.37 543.84 L517.23 543.78 L518.10 543.72 L518.96 543.65 L519.83 543.58 L520.69 543.49 L521.56 543.40 L522.42 543.30 L523.29 543.19 L524.15 543.07 L525.02 542.95 L525.88 542.81 L526.75 542.66 L527.61 542.49 L528.48 542.32 L529.34 542.13 L530.21 541.93 L531.08 541.71 L531.94 541.48 L532.81 541.23 L533.67 540.97 L534.54 540.69 L535.40 540.40 L536.27 540.09 L537.13 539.76 L538.00 539.42 L538.86 539.06 L539.73 538.69 L540.59 538.29 L541.46 537.89 L542.32 537.47 L543.19 537.03 L544.05 536.58 L544.92 536.12 L545.78 535.64 L546.65 535.15 L547.51 534.66 L548.38 534.15 L549.24 533.64 L550.11 533.12 L550.97 532.60 L551.84 532.07 L552.71 531.55 L553.57 531.03 L554.44 530.51 L555.30 529.99 L556.17 529.49 L557.03 528.99 L557.90 528.51 L558.76 528.04 L559.63 527.58 L560.49 527.15 L561.36 526.73 L562.22 526.34 L563.09 525.97 L563.95 525.63 L564.82 525.32 L565.68 525.03 L566.55 524.78 L567.41 524.56 L568.28 524.37 L569.14 524.22 L570.01 524.10 L570.87 524.02 L571.74 523.98 L572.60 523.97 L573.47 524.00 L574.34 524.07 L575.20 524.17 L576.07 524.31 L576.93 524.48 L577.80 524.69 L578.66 524.93 L579.53 525.20 L580.39 525.50 L581.26 525.83 L582.12 526.19 L582.99 526.57 L583.85 526.98 L584.72 527.41 L585.58 527.85 L586.45 528.32 L587.31 528.80 L588.18 529.29 L589.04 529.79 L589.91 530.30 L590.77 530.82 L591.64 531.34 L592.50 531.86 L593.37 532.39 L594.23 532.91 L595.10 533.43 L595.97 533.95 L596.83 534.45 L597.70 534.96 L598.56 535.45 L599.43 535.93 L600.29 536.39 L601.16 536.85 L602.02 537.29 L602.89 537.72 L603.75 538.13 L604.62 538.53 L605.48 538.91 L606.35 539.28 L607.21 539.63 L608.08 539.96 L608.94 540.28 L609.81 540.58 L610.67 540.86 L611.54 541.13 L612.40 541.38 L613.27 541.62 L614.13 541.84 L615.00 542.05 L615.86 542.24 L616.73 542.42 L617.60 542.59 L618.46 542.75 L619.33 542.89 L620.19 543.02 L621.06 543.15 L621.92 543.26 L622.79 543.36 L623.65 543.46 L624.52 543.54 L625.38 543.62 L626.25 543.69 L627.11 543.76 L627.98 543.82 L628.84 543.87 L629.71 543.92 L630.57 543.96 L631.44 544.00 L632.30 544.04 L633.17 544.07 L634.03 544.10 L634.90 544.12 L635.76 544.14 L636.63 544.16 L637.49 544.18 L638.36 544.20 L639.23 544.21 L640.09 544.22 L640.96 544.23 L641.82 544.24 L642.69 544.25 L643.55 544.26 L644.42 544.26 L645.28 544.27 L646.15 544.27 L647.01 544.28 L647.88 544.28 L648.74 544.28 L649.61 544.29 L650.47 544.29 L651.34 544.29 L652.20 544.29 L653.07 544.29 L653.93 544.29 L654.80 544.29 L655.66 544.30 L656.53 544.30 L657.39 544.30" fill="none" stroke="#1c6ca8" stroke-width="1.1"/>
<line x1="392.6" y1="319.7" x2="392.6" y2="544.9" stroke="#111" stroke-width="1.25"/>
<line x1="392.0" y1="544.3" x2="674.79" y2="544.3" stroke="#111" stroke-width="1.25"/>
<line x1="389.20000000000005" y1="544.30" x2="392.6" y2="544.30" stroke="#111" stroke-width="0.95"/>
<text x="386.20000000000005" y="547.40" text-anchor="end" font-size="8.9" fill="#222">0</text>
<line x1="390.6" y1="533.60" x2="392.6" y2="533.60" stroke="#111" stroke-width="0.75"/>
<line x1="390.6" y1="522.90" x2="392.6" y2="522.90" stroke="#111" stroke-width="0.75"/>
<line x1="390.6" y1="512.20" x2="392.6" y2="512.20" stroke="#111" stroke-width="0.75"/>
<line x1="390.6" y1="501.50" x2="392.6" y2="501.50" stroke="#111" stroke-width="0.75"/>
<line x1="389.20000000000005" y1="490.80" x2="392.6" y2="490.80" stroke="#111" stroke-width="0.95"/>
<text x="386.20000000000005" y="493.90" text-anchor="end" font-size="8.9" fill="#222">100</text>
<line x1="390.6" y1="480.10" x2="392.6" y2="480.10" stroke="#111" stroke-width="0.75"/>
<line x1="390.6" y1="469.40" x2="392.6" y2="469.40" stroke="#111" stroke-width="0.75"/>
<line x1="390.6" y1="458.70" x2="392.6" y2="458.70" stroke="#111" stroke-width="0.75"/>
<line x1="390.6" y1="448.00" x2="392.6" y2="448.00" stroke="#111" stroke-width="0.75"/>
<line x1="389.20000000000005" y1="437.30" x2="392.6" y2="437.30" stroke="#111" stroke-width="0.95"/>
<text x="386.20000000000005" y="440.40" text-anchor="end" font-size="8.9" fill="#222">200</text>
<line x1="390.6" y1="426.60" x2="392.6" y2="426.60" stroke="#111" stroke-width="0.75"/>
<line x1="390.6" y1="415.90" x2="392.6" y2="415.90" stroke="#111" stroke-width="0.75"/>
<line x1="390.6" y1="405.20" x2="392.6" y2="405.20" stroke="#111" stroke-width="0.75"/>
<line x1="390.6" y1="394.50" x2="392.6" y2="394.50" stroke="#111" stroke-width="0.75"/>
<line x1="389.20000000000005" y1="383.80" x2="392.6" y2="383.80" stroke="#111" stroke-width="0.95"/>
<text x="386.20000000000005" y="386.90" text-anchor="end" font-size="8.9" fill="#222">300</text>
<line x1="390.6" y1="373.10" x2="392.6" y2="373.10" stroke="#111" stroke-width="0.75"/>
<line x1="390.6" y1="362.40" x2="392.6" y2="362.40" stroke="#111" stroke-width="0.75"/>
<line x1="390.6" y1="351.70" x2="392.6" y2="351.70" stroke="#111" stroke-width="0.75"/>
<line x1="390.6" y1="341.00" x2="392.6" y2="341.00" stroke="#111" stroke-width="0.75"/>
<line x1="389.20000000000005" y1="330.30" x2="392.6" y2="330.30" stroke="#111" stroke-width="0.95"/>
<text x="386.20000000000005" y="333.40" text-anchor="end" font-size="8.9" fill="#222">400</text>
<line x1="390.6" y1="319.60" x2="392.6" y2="319.60" stroke="#111" stroke-width="0.75"/>
<line x1="392.60" y1="544.3" x2="392.60" y2="547.6999999999999" stroke="#111" stroke-width="0.95"/>
<text x="392.60" y="558.9" text-anchor="middle" font-size="8.9" fill="#222">0</text>
<line x1="405.58" y1="544.3" x2="405.58" y2="546.3" stroke="#111" stroke-width="0.75"/>
<line x1="418.56" y1="544.3" x2="418.56" y2="546.3" stroke="#111" stroke-width="0.75"/>
<line x1="431.53" y1="544.3" x2="431.53" y2="546.3" stroke="#111" stroke-width="0.75"/>
<line x1="444.51" y1="544.3" x2="444.51" y2="546.3" stroke="#111" stroke-width="0.75"/>
<line x1="457.49" y1="544.3" x2="457.49" y2="547.6999999999999" stroke="#111" stroke-width="0.95"/>
<text x="457.49" y="558.9" text-anchor="middle" font-size="8.9" fill="#222">300</text>
<line x1="470.47" y1="544.3" x2="470.47" y2="546.3" stroke="#111" stroke-width="0.75"/>
<line x1="483.45" y1="544.3" x2="483.45" y2="546.3" stroke="#111" stroke-width="0.75"/>
<line x1="496.42" y1="544.3" x2="496.42" y2="546.3" stroke="#111" stroke-width="0.75"/>
<line x1="509.40" y1="544.3" x2="509.40" y2="546.3" stroke="#111" stroke-width="0.75"/>
<line x1="522.38" y1="544.3" x2="522.38" y2="547.6999999999999" stroke="#111" stroke-width="0.95"/>
<text x="522.38" y="558.9" text-anchor="middle" font-size="8.9" fill="#222">600</text>
<line x1="535.36" y1="544.3" x2="535.36" y2="546.3" stroke="#111" stroke-width="0.75"/>
<line x1="548.34" y1="544.3" x2="548.34" y2="546.3" stroke="#111" stroke-width="0.75"/>
<line x1="561.31" y1="544.3" x2="561.31" y2="546.3" stroke="#111" stroke-width="0.75"/>
<line x1="574.29" y1="544.3" x2="574.29" y2="546.3" stroke="#111" stroke-width="0.75"/>
<line x1="587.27" y1="544.3" x2="587.27" y2="547.6999999999999" stroke="#111" stroke-width="0.95"/>
<text x="587.27" y="558.9" text-anchor="middle" font-size="8.9" fill="#222">900</text>
<line x1="600.25" y1="544.3" x2="600.25" y2="546.3" stroke="#111" stroke-width="0.75"/>
<line x1="613.23" y1="544.3" x2="613.23" y2="546.3" stroke="#111" stroke-width="0.75"/>
<line x1="626.20" y1="544.3" x2="626.20" y2="546.3" stroke="#111" stroke-width="0.75"/>
<line x1="639.18" y1="544.3" x2="639.18" y2="546.3" stroke="#111" stroke-width="0.75"/>
<line x1="652.16" y1="544.3" x2="652.16" y2="547.6999999999999" stroke="#111" stroke-width="0.95"/>
<text x="652.16" y="558.9" text-anchor="middle" font-size="8.9" fill="#222">1200</text>
<line x1="665.14" y1="544.3" x2="665.14" y2="546.3" stroke="#111" stroke-width="0.75"/>
<text x="533.20" y="571.3" text-anchor="middle" font-size="8.9" fill="#222">Mass [kDa]</text>
<text transform="translate(364,432) rotate(-90)" text-anchor="middle" font-size="8.6" fill="#222">Counts</text>
<text x="529" y="324.5" font-size="14.45" font-weight="bold">PRC2.1<tspan font-size="9.7" dy="-4.6">MTF2</tspan><tspan dy="4.6"> + EPOP</tspan><tspan font-size="9.7" dy="-4.6">WT</tspan></text>
<text x="482.8" y="320.5" text-anchor="middle" font-size="11.7" font-weight="bold">Monomer</text>
<text x="482.5" y="336.8" text-anchor="middle" font-size="11.8">411 kDa</text>
<text x="482.5" y="349.5" text-anchor="middle" font-size="11.8">&#963; 58 kDa</text>
<text x="573.3" y="480.7" text-anchor="middle" font-size="11.7" font-weight="bold">Dimer</text>
<text x="576.5" y="500.4" text-anchor="middle" font-size="11.8">831 kDa</text>
<text x="576.5" y="513.1" text-anchor="middle" font-size="11.8">&#963; 94 kDa</text>
<text x="423.7" y="481.5" text-anchor="middle" font-size="11.8">79 kDa</text>
<text x="423.7" y="494.2" text-anchor="middle" font-size="11.8">&#963; 23 kDa</text>
<path d="M48.14 876.40V870.22H49.23V863.09H50.32V851.79H51.40V844.53H52.49V838.95H53.57V825.40H54.66V814.91H55.75V812.63H56.83V800.55H57.92V811.74H59.00V814.88H60.09V808.68H61.18V805.88H62.26V815.79H63.35V828.54H64.43V815.95H65.52V823.06H66.61V833.34H67.69V839.69H68.78V842.79H69.86V845.43H70.95V849.17H72.04V850.21H73.12V850.14H74.21V856.12H75.29V855.43H76.38V851.64H77.47V849.78H78.55V850.60H79.64V853.88H80.72V856.03H81.81V856.26H82.90V860.56H83.98V859.26H85.07V853.98H86.15V845.45H87.24V843.87H88.33V851.64H89.41V849.42H90.50V851.80H91.58V852.01H92.67V852.00H93.76V856.40H94.84V851.79H95.93V846.65H97.01V845.02H98.10V844.18H99.19V843.28H100.27V837.68H101.36V835.80H102.44V826.46H103.53V821.91H104.62V814.02H105.70V810.78H106.79V802.53H107.87V796.90H108.96V770.59H110.05V779.48H111.13V779.77H112.22V767.89H113.30V771.71H114.39V755.62H115.48V756.21H116.56V754.25H117.65V757.10H118.73V752.06H119.82V747.34H120.91V747.23H121.99V740.37H123.08V736.60H124.16V727.65H125.25V736.36H126.34V748.03H127.42V744.35H128.51V751.87H129.59V760.85H130.68V761.92H131.77V779.14H132.85V788.67H133.94V797.22H135.02V811.12H136.11V813.71H137.20V820.53H138.28V821.53H139.37V827.98H140.45V829.15H141.54V831.21H142.63V841.33H143.71V840.85H144.80V839.92H145.88V840.12H146.97V835.83H148.06V838.19H149.14V835.79H150.23V833.60H151.31V831.14H152.40V833.94H153.49V845.17H154.57V839.80H155.66V833.01H156.74V825.54H157.83V827.05H158.92V809.55H160.00V807.06H161.09V807.64H162.17V813.68H163.26V804.71H164.35V802.20H165.43V792.81H166.52V806.45H167.60V809.89H168.69V809.20H169.78V804.06H170.86V796.83H171.95V793.03H173.03V795.41H174.12V797.92H175.21V795.68H176.29V789.79H177.38V791.57H178.46V772.05H179.55V774.48H180.64V781.33H181.72V793.71H182.81V784.97H183.89V786.02H184.98V772.82H186.07V767.93H187.15V767.74H188.24V744.37H189.32V743.22H190.41V743.45H191.50V772.20H192.58V771.24H193.67V769.94H194.75V707.91H195.84V728.05H196.93V742.70H198.01V705.08H199.10V703.08H200.18V715.63H201.27V711.82H202.36V689.02H203.44V724.21H204.53V735.84H205.61V718.96H206.70V709.30H207.79V731.30H208.87V731.81H209.96V725.13H211.04V741.67H212.13V758.22H213.22V735.31H214.30V743.03H215.39V759.13H216.47V740.31H217.56V768.93H218.65V798.16H219.73V788.07H220.82V804.57H221.90V818.09H222.99V821.45H224.08V824.40H225.16V831.06H226.25V829.76H227.33V851.79H228.42V848.34H229.51V843.80H230.59V851.63H231.68V858.50H232.76V860.76H233.85V860.75H234.94V864.96H236.02V866.28H237.11V863.16H238.19V863.38H239.28V861.86H240.37V857.38H241.45V860.03H242.54V864.75H243.62V865.44H244.71V861.81H245.80V860.66H246.88V865.74H247.97V867.35H249.05V866.27H250.14V870.41H251.23V869.17H252.31V867.48H253.40V862.00H254.48V861.91H255.57V863.74H256.66V865.32H257.74V867.95H258.83V869.93H259.91V873.58H261.00V871.43H262.09V868.86H263.17V869.92H264.26V870.71H265.34V870.39H266.43V870.08H267.52V872.50H268.60V869.24H269.69V869.05H270.77V867.42H271.86V867.91H272.95V871.23H274.03V871.18H275.12V870.11H276.20V870.18H277.29V872.55H278.38V872.41H279.46V869.58H280.55V866.09H281.63V865.35H282.72V868.12H283.81V872.20H284.89V870.48H285.98V869.59H287.06V869.44H288.15V866.49H289.24V868.31H290.32V873.37H291.41V872.99H292.49V872.58H293.58V870.56H294.67V869.55H295.75V869.70H296.84V872.48H297.92V872.46H299.01V872.74H300.10V870.47H301.18V873.96H302.27V870.56H303.35V871.31H304.44V872.88H305.53V871.94H306.61V873.38H307.70V874.71H308.78V869.77H309.87V870.55H310.96V872.28H312.04V873.34H313.13V873.92H314.21V873.26H315.30V874.62H316.39V872.14H317.47V872.34H318.56V872.18H319.64V871.35H320.73V867.71H321.82V868.92H322.90V869.42H323.99V871.54H325.07V874.64H326.16V876.40Z" fill="#7ab0d4" stroke="none"/>
<path d="M48.14 876.40V870.22H49.23V863.09H50.32V851.79H51.40V844.53H52.49V838.95H53.57V825.40H54.66V814.91H55.75V812.63H56.83V800.55H57.92V811.74H59.00V814.88H60.09V808.68H61.18V805.88H62.26V815.79H63.35V828.54H64.43V815.95H65.52V823.06H66.61V833.34H67.69V839.69H68.78V842.79H69.86V845.43H70.95V849.17H72.04V850.21H73.12V850.14H74.21V856.12H75.29V855.43H76.38V851.64H77.47V849.78H78.55V850.60H79.64V853.88H80.72V856.03H81.81V856.26H82.90V860.56H83.98V859.26H85.07V853.98H86.15V845.45H87.24V843.87H88.33V851.64H89.41V849.42H90.50V851.80H91.58V852.01H92.67V852.00H93.76V856.40H94.84V851.79H95.93V846.65H97.01V845.02H98.10V844.18H99.19V843.28H100.27V837.68H101.36V835.80H102.44V826.46H103.53V821.91H104.62V814.02H105.70V810.78H106.79V802.53H107.87V796.90H108.96V770.59H110.05V779.48H111.13V779.77H112.22V767.89H113.30V771.71H114.39V755.62H115.48V756.21H116.56V754.25H117.65V757.10H118.73V752.06H119.82V747.34H120.91V747.23H121.99V740.37H123.08V736.60H124.16V727.65H125.25V736.36H126.34V748.03H127.42V744.35H128.51V751.87H129.59V760.85H130.68V761.92H131.77V779.14H132.85V788.67H133.94V797.22H135.02V811.12H136.11V813.71H137.20V820.53H138.28V821.53H139.37V827.98H140.45V829.15H141.54V831.21H142.63V841.33H143.71V840.85H144.80V839.92H145.88V840.12H146.97V835.83H148.06V838.19H149.14V835.79H150.23V833.60H151.31V831.14H152.40V833.94H153.49V845.17H154.57V839.80H155.66V833.01H156.74V825.54H157.83V827.05H158.92V809.55H160.00V807.06H161.09V807.64H162.17V813.68H163.26V804.71H164.35V802.20H165.43V792.81H166.52V806.45H167.60V809.89H168.69V809.20H169.78V804.06H170.86V796.83H171.95V793.03H173.03V795.41H174.12V797.92H175.21V795.68H176.29V789.79H177.38V791.57H178.46V772.05H179.55V774.48H180.64V781.33H181.72V793.71H182.81V784.97H183.89V786.02H184.98V772.82H186.07V767.93H187.15V767.74H188.24V744.37H189.32V743.22H190.41V743.45H191.50V772.20H192.58V771.24H193.67V769.94H194.75V707.91H195.84V728.05H196.93V742.70H198.01V705.08H199.10V703.08H200.18V715.63H201.27V711.82H202.36V689.02H203.44V724.21H204.53V735.84H205.61V718.96H206.70V709.30H207.79V731.30H208.87V731.81H209.96V725.13H211.04V741.67H212.13V758.22H213.22V735.31H214.30V743.03H215.39V759.13H216.47V740.31H217.56V768.93H218.65V798.16H219.73V788.07H220.82V804.57H221.90V818.09H222.99V821.45H224.08V824.40H225.16V831.06H226.25V829.76H227.33V851.79H228.42V848.34H229.51V843.80H230.59V851.63H231.68V858.50H232.76V860.76H233.85V860.75H234.94V864.96H236.02V866.28H237.11V863.16H238.19V863.38H239.28V861.86H240.37V857.38H241.45V860.03H242.54V864.75H243.62V865.44H244.71V861.81H245.80V860.66H246.88V865.74H247.97V867.35H249.05V866.27H250.14V870.41H251.23V869.17H252.31V867.48H253.40V862.00H254.48V861.91H255.57V863.74H256.66V865.32H257.74V867.95H258.83V869.93H259.91V873.58H261.00V871.43H262.09V868.86H263.17V869.92H264.26V870.71H265.34V870.39H266.43V870.08H267.52V872.50H268.60V869.24H269.69V869.05H270.77V867.42H271.86V867.91H272.95V871.23H274.03V871.18H275.12V870.11H276.20V870.18H277.29V872.55H278.38V872.41H279.46V869.58H280.55V866.09H281.63V865.35H282.72V868.12H283.81V872.20H284.89V870.48H285.98V869.59H287.06V869.44H288.15V866.49H289.24V868.31H290.32V873.37H291.41V872.99H292.49V872.58H293.58V870.56H294.67V869.55H295.75V869.70H296.84V872.48H297.92V872.46H299.01V872.74H300.10V870.47H301.18V873.96H302.27V870.56H303.35V871.31H304.44V872.88H305.53V871.94H306.61V873.38H307.70V874.71H308.78V869.77H309.87V870.55H310.96V872.28H312.04V873.34H313.13V873.92H314.21V873.26H315.30V874.62H316.39V872.14H317.47V872.34H318.56V872.18H319.64V871.35H320.73V867.71H321.82V868.92H322.90V869.42H323.99V871.54H325.07V874.64H326.16V876.40" fill="none" stroke="#1f77b4" stroke-width="1.3" stroke-linejoin="miter"/>
<path d="M43.80 872.68 L44.67 871.42 L45.54 869.83 L46.41 867.86 L47.28 865.48 L48.14 862.65 L49.01 859.35 L49.88 855.59 L50.75 851.40 L51.62 846.82 L52.49 841.96 L53.36 836.91 L54.23 831.83 L55.09 826.87 L55.96 822.21 L56.83 818.04 L57.70 814.52 L58.57 811.80 L59.44 810.01 L60.31 809.22 L61.18 809.49 L62.04 810.78 L62.91 813.05 L63.78 816.18 L64.65 820.05 L65.52 824.49 L66.39 829.32 L67.26 834.36 L68.13 839.45 L69.00 844.42 L69.86 849.15 L70.73 853.54 L71.60 857.53 L72.47 861.06 L73.34 864.12 L74.21 866.72 L75.08 868.89 L75.95 870.67 L76.81 872.09 L77.68 873.21 L78.55 874.07 L79.42 874.73 L80.29 875.22 L81.16 875.58 L82.03 875.84 L82.90 876.02 L83.76 876.15 L84.63 876.24 L85.50 876.29 L86.37 876.33 L87.24 876.36 L88.11 876.37 L88.98 876.38" fill="none" stroke="#1c6ca8" stroke-width="1.1"/>
<path d="M67.47 876.38 L68.34 876.38 L69.21 876.37 L70.08 876.36 L70.95 876.34 L71.82 876.33 L72.69 876.31 L73.56 876.28 L74.43 876.25 L75.29 876.20 L76.16 876.15 L77.03 876.09 L77.90 876.00 L78.77 875.91 L79.64 875.78 L80.51 875.64 L81.38 875.46 L82.24 875.24 L83.11 874.98 L83.98 874.67 L84.85 874.30 L85.72 873.86 L86.59 873.35 L87.46 872.75 L88.33 872.04 L89.19 871.23 L90.06 870.29 L90.93 869.22 L91.80 867.99 L92.67 866.60 L93.54 865.03 L94.41 863.26 L95.28 861.28 L96.15 859.09 L97.01 856.66 L97.88 854.00 L98.75 851.09 L99.62 847.92 L100.49 844.50 L101.36 840.84 L102.23 836.92 L103.10 832.77 L103.96 828.39 L104.83 823.81 L105.70 819.05 L106.57 814.14 L107.44 809.10 L108.31 803.98 L109.18 798.82 L110.05 793.65 L110.91 788.54 L111.78 783.52 L112.65 778.65 L113.52 773.98 L114.39 769.56 L115.26 765.45 L116.13 761.68 L117.00 758.32 L117.87 755.40 L118.73 752.96 L119.60 751.02 L120.47 749.62 L121.34 748.77 L122.21 748.49 L123.08 748.77 L123.95 749.62 L124.82 751.02 L125.68 752.96 L126.55 755.40 L127.42 758.32 L128.29 761.68 L129.16 765.45 L130.03 769.56 L130.90 773.98 L131.77 778.65 L132.63 783.52 L133.50 788.54 L134.37 793.65 L135.24 798.82 L136.11 803.98 L136.98 809.10 L137.85 814.14 L138.72 819.05 L139.59 823.81 L140.45 828.39 L141.32 832.77 L142.19 836.92 L143.06 840.84 L143.93 844.50 L144.80 847.92 L145.67 851.09 L146.54 854.00 L147.40 856.66 L148.27 859.09 L149.14 861.28 L150.01 863.26 L150.88 865.03 L151.75 866.60 L152.62 867.99 L153.49 869.22 L154.35 870.29 L155.22 871.23 L156.09 872.04 L156.96 872.75 L157.83 873.35 L158.70 873.86 L159.57 874.30 L160.44 874.67 L161.31 874.98 L162.17 875.24 L163.04 875.46 L163.91 875.64 L164.78 875.78 L165.65 875.91 L166.52 876.00 L167.39 876.09 L168.26 876.15 L169.12 876.20 L169.99 876.25 L170.86 876.28 L171.73 876.31 L172.60 876.33 L173.47 876.34 L174.34 876.36 L175.21 876.37 L176.07 876.38 L176.94 876.38" fill="none" stroke="#1c6ca8" stroke-width="1.1"/>
<path d="M124.60 876.38 L125.47 876.37 L126.34 876.37 L127.20 876.36 L128.07 876.35 L128.94 876.34 L129.81 876.33 L130.68 876.31 L131.55 876.30 L132.42 876.27 L133.29 876.25 L134.16 876.22 L135.02 876.19 L135.89 876.15 L136.76 876.10 L137.63 876.05 L138.50 875.99 L139.37 875.92 L140.24 875.83 L141.11 875.74 L141.97 875.63 L142.84 875.50 L143.71 875.35 L144.58 875.19 L145.45 875.00 L146.32 874.78 L147.19 874.53 L148.06 874.25 L148.92 873.94 L149.79 873.59 L150.66 873.19 L151.53 872.74 L152.40 872.24 L153.27 871.69 L154.14 871.07 L155.01 870.38 L155.88 869.62 L156.74 868.78 L157.61 867.85 L158.48 866.84 L159.35 865.72 L160.22 864.50 L161.09 863.18 L161.96 861.74 L162.83 860.17 L163.69 858.48 L164.56 856.66 L165.43 854.70 L166.30 852.60 L167.17 850.35 L168.04 847.95 L168.91 845.40 L169.78 842.70 L170.64 839.84 L171.51 836.83 L172.38 833.66 L173.25 830.35 L174.12 826.88 L174.99 823.28 L175.86 819.53 L176.73 815.66 L177.60 811.67 L178.46 807.56 L179.33 803.36 L180.20 799.08 L181.07 794.72 L181.94 790.31 L182.81 785.86 L183.68 781.39 L184.55 776.93 L185.41 772.48 L186.28 768.07 L187.15 763.73 L188.02 759.47 L188.89 755.32 L189.76 751.30 L190.63 747.43 L191.50 743.74 L192.36 740.24 L193.23 736.96 L194.10 733.92 L194.97 731.13 L195.84 728.62 L196.71 726.39 L197.58 724.47 L198.45 722.86 L199.32 721.58 L200.18 720.64 L201.05 720.03 L201.92 719.77 L202.79 719.86 L203.66 720.29 L204.53 721.07 L205.40 722.18 L206.27 723.63 L207.13 725.39 L208.00 727.47 L208.87 729.84 L209.74 732.49 L210.61 735.41 L211.48 738.58 L212.35 741.97 L213.22 745.56 L214.08 749.35 L214.95 753.29 L215.82 757.38 L216.69 761.59 L217.56 765.89 L218.43 770.27 L219.30 774.70 L220.17 779.16 L221.04 783.63 L221.90 788.09 L222.77 792.52 L223.64 796.91 L224.51 801.23 L225.38 805.48 L226.25 809.63 L227.12 813.68 L227.99 817.61 L228.85 821.42 L229.72 825.10 L230.59 828.63 L231.46 832.02 L232.33 835.27 L233.20 838.35 L234.07 841.29 L234.94 844.07 L235.80 846.70 L236.67 849.17 L237.54 851.49 L238.41 853.67 L239.28 855.70 L240.15 857.59 L241.02 859.34 L241.89 860.97 L242.76 862.47 L243.62 863.86 L244.49 865.13 L245.36 866.29 L246.23 867.36 L247.10 868.33 L247.97 869.21 L248.84 870.01 L249.71 870.73 L250.57 871.38 L251.44 871.97 L252.31 872.50 L253.18 872.97 L254.05 873.39 L254.92 873.77 L255.79 874.10 L256.66 874.40 L257.52 874.66 L258.39 874.89 L259.26 875.09 L260.13 875.27 L261.00 875.43 L261.87 875.56 L262.74 875.68 L263.61 875.79 L264.48 875.88 L265.34 875.95 L266.21 876.02 L267.08 876.08 L267.95 876.13 L268.82 876.17 L269.69 876.21 L270.56 876.24 L271.43 876.26 L272.29 876.29 L273.16 876.30 L274.03 876.32 L274.90 876.33 L275.77 876.34 L276.64 876.35 L277.51 876.36 L278.38 876.37 L279.24 876.37" fill="none" stroke="#1c6ca8" stroke-width="1.1"/>
<line x1="43.8" y1="653.3" x2="43.8" y2="877.0" stroke="#111" stroke-width="1.25"/>
<line x1="43.199999999999996" y1="876.4" x2="327.16" y2="876.4" stroke="#111" stroke-width="1.25"/>
<line x1="40.4" y1="876.40" x2="43.8" y2="876.40" stroke="#111" stroke-width="0.95"/>
<text x="37.4" y="879.50" text-anchor="end" font-size="8.9" fill="#222">0</text>
<line x1="41.8" y1="865.56" x2="43.8" y2="865.56" stroke="#111" stroke-width="0.75"/>
<line x1="41.8" y1="854.72" x2="43.8" y2="854.72" stroke="#111" stroke-width="0.75"/>
<line x1="41.8" y1="843.88" x2="43.8" y2="843.88" stroke="#111" stroke-width="0.75"/>
<line x1="41.8" y1="833.04" x2="43.8" y2="833.04" stroke="#111" stroke-width="0.75"/>
<line x1="40.4" y1="822.20" x2="43.8" y2="822.20" stroke="#111" stroke-width="0.95"/>
<text x="37.4" y="825.30" text-anchor="end" font-size="8.9" fill="#222">50</text>
<line x1="41.8" y1="811.36" x2="43.8" y2="811.36" stroke="#111" stroke-width="0.75"/>
<line x1="41.8" y1="800.52" x2="43.8" y2="800.52" stroke="#111" stroke-width="0.75"/>
<line x1="41.8" y1="789.68" x2="43.8" y2="789.68" stroke="#111" stroke-width="0.75"/>
<line x1="41.8" y1="778.84" x2="43.8" y2="778.84" stroke="#111" stroke-width="0.75"/>
<line x1="40.4" y1="768.00" x2="43.8" y2="768.00" stroke="#111" stroke-width="0.95"/>
<text x="37.4" y="771.10" text-anchor="end" font-size="8.9" fill="#222">100</text>
<line x1="41.8" y1="757.16" x2="43.8" y2="757.16" stroke="#111" stroke-width="0.75"/>
<line x1="41.8" y1="746.32" x2="43.8" y2="746.32" stroke="#111" stroke-width="0.75"/>
<line x1="41.8" y1="735.48" x2="43.8" y2="735.48" stroke="#111" stroke-width="0.75"/>
<line x1="41.8" y1="724.64" x2="43.8" y2="724.64" stroke="#111" stroke-width="0.75"/>
<line x1="40.4" y1="713.80" x2="43.8" y2="713.80" stroke="#111" stroke-width="0.95"/>
<text x="37.4" y="716.90" text-anchor="end" font-size="8.9" fill="#222">150</text>
<line x1="41.8" y1="702.96" x2="43.8" y2="702.96" stroke="#111" stroke-width="0.75"/>
<line x1="41.8" y1="692.12" x2="43.8" y2="692.12" stroke="#111" stroke-width="0.75"/>
<line x1="41.8" y1="681.28" x2="43.8" y2="681.28" stroke="#111" stroke-width="0.75"/>
<line x1="41.8" y1="670.44" x2="43.8" y2="670.44" stroke="#111" stroke-width="0.75"/>
<line x1="40.4" y1="659.60" x2="43.8" y2="659.60" stroke="#111" stroke-width="0.95"/>
<text x="37.4" y="662.70" text-anchor="end" font-size="8.9" fill="#222">200</text>
<line x1="43.80" y1="876.4" x2="43.80" y2="879.8" stroke="#111" stroke-width="0.95"/>
<text x="43.80" y="891.0" text-anchor="middle" font-size="8.9" fill="#222">0</text>
<line x1="56.83" y1="876.4" x2="56.83" y2="878.4" stroke="#111" stroke-width="0.75"/>
<line x1="69.86" y1="876.4" x2="69.86" y2="878.4" stroke="#111" stroke-width="0.75"/>
<line x1="82.90" y1="876.4" x2="82.90" y2="878.4" stroke="#111" stroke-width="0.75"/>
<line x1="95.93" y1="876.4" x2="95.93" y2="878.4" stroke="#111" stroke-width="0.75"/>
<line x1="108.96" y1="876.4" x2="108.96" y2="879.8" stroke="#111" stroke-width="0.95"/>
<text x="108.96" y="891.0" text-anchor="middle" font-size="8.9" fill="#222">300</text>
<line x1="121.99" y1="876.4" x2="121.99" y2="878.4" stroke="#111" stroke-width="0.75"/>
<line x1="135.02" y1="876.4" x2="135.02" y2="878.4" stroke="#111" stroke-width="0.75"/>
<line x1="148.06" y1="876.4" x2="148.06" y2="878.4" stroke="#111" stroke-width="0.75"/>
<line x1="161.09" y1="876.4" x2="161.09" y2="878.4" stroke="#111" stroke-width="0.75"/>
<line x1="174.12" y1="876.4" x2="174.12" y2="879.8" stroke="#111" stroke-width="0.95"/>
<text x="174.12" y="891.0" text-anchor="middle" font-size="8.9" fill="#222">600</text>
<line x1="187.15" y1="876.4" x2="187.15" y2="878.4" stroke="#111" stroke-width="0.75"/>
<line x1="200.18" y1="876.4" x2="200.18" y2="878.4" stroke="#111" stroke-width="0.75"/>
<line x1="213.22" y1="876.4" x2="213.22" y2="878.4" stroke="#111" stroke-width="0.75"/>
<line x1="226.25" y1="876.4" x2="226.25" y2="878.4" stroke="#111" stroke-width="0.75"/>
<line x1="239.28" y1="876.4" x2="239.28" y2="879.8" stroke="#111" stroke-width="0.95"/>
<text x="239.28" y="891.0" text-anchor="middle" font-size="8.9" fill="#222">900</text>
<line x1="252.31" y1="876.4" x2="252.31" y2="878.4" stroke="#111" stroke-width="0.75"/>
<line x1="265.34" y1="876.4" x2="265.34" y2="878.4" stroke="#111" stroke-width="0.75"/>
<line x1="278.38" y1="876.4" x2="278.38" y2="878.4" stroke="#111" stroke-width="0.75"/>
<line x1="291.41" y1="876.4" x2="291.41" y2="878.4" stroke="#111" stroke-width="0.75"/>
<line x1="304.44" y1="876.4" x2="304.44" y2="879.8" stroke="#111" stroke-width="0.95"/>
<text x="304.44" y="891.0" text-anchor="middle" font-size="8.9" fill="#222">1200</text>
<line x1="317.47" y1="876.4" x2="317.47" y2="878.4" stroke="#111" stroke-width="0.75"/>
<text x="184.98" y="903.4" text-anchor="middle" font-size="8.9" fill="#222">Mass [kDa]</text>
<text transform="translate(15.8,762) rotate(-90)" text-anchor="middle" font-size="8.6" fill="#222">Counts</text>
<text x="92.5" y="628.4" font-size="14.45" font-weight="bold">PRC2.1<tspan font-size="9.7" dy="-4.6">MTF2</tspan><tspan dy="4.6"> + EPOP</tspan><tspan font-size="9.7" dy="-4.6">D5</tspan></text>
<text x="119.5" y="686.7" text-anchor="middle" font-size="11.7" font-weight="bold">Monomer</text>
<text x="120.8" y="705.2" text-anchor="middle" font-size="11.8">361 kDa</text>
<text x="120.8" y="717.9" text-anchor="middle" font-size="11.8">&#963; 60 kDa</text>
<text x="200.6" y="650.5" text-anchor="middle" font-size="11.7" font-weight="bold">Dimer</text>
<text x="199.4" y="669.8" text-anchor="middle" font-size="11.8">729 kDa</text>
<text x="199.4" y="682.5" text-anchor="middle" font-size="11.8">&#963; 85 kDa</text>
<text x="71.7" y="780.5" text-anchor="middle" font-size="11.8">77 kDa</text>
<text x="71.7" y="793.2" text-anchor="middle" font-size="11.8">&#963; 32 kDa</text>
</g>
<g id="pd">
<line x1="414" y1="608.1999999999999" x2="435.5" y2="608.1999999999999" stroke="#22dc22" stroke-width="1.9"/>
<text x="441.5" y="612.8" font-size="14.45" fill="#22dc22" stroke="#22dc22" stroke-width="0.3">PRC2<tspan font-size="10" dy="-5">MTF2</tspan><tspan dy="5"> + EPOP FL + Elongin BC</tspan></text>
<line x1="414" y1="626.1999999999999" x2="435.5" y2="626.1999999999999" stroke="#2046ee" stroke-width="1.9"/>
<text x="440.6" y="630.8" font-size="14.45" fill="#2046ee" stroke="#2046ee" stroke-width="0.3">PRC2<tspan font-size="10" dy="-5">MTF2</tspan><tspan dy="5"> + EPOP FL</tspan></text>
<line x1="414" y1="644.6" x2="435.5" y2="644.6" stroke="#ae20dc" stroke-width="1.9"/>
<text x="440.6" y="649.2" font-size="14.45" fill="#ae20dc" stroke="#ae20dc" stroke-width="0.3">PRC2<tspan font-size="10" dy="-5">MTF2</tspan><tspan dy="5"> + EPOP(C)</tspan></text>
<line x1="414" y1="663.6" x2="435.5" y2="663.6" stroke="#f43c18" stroke-width="1.9"/>
<text x="440.6" y="668.2" font-size="14.45" fill="#f43c18" stroke="#f43c18" stroke-width="0.3">PRC2<tspan font-size="10" dy="-5">MTF2</tspan></text>
<text x="363.2" y="615.7" font-size="21" font-weight="bold">d</text>
<path d="M413.42 860.70C413.49 859.27 413.53 853.21 413.85 852.11C414.18 851.01 414.58 853.54 415.38 854.09C416.18 854.64 413.56 855.14 418.65 855.41C423.74 855.69 435.67 855.63 445.90 855.74C456.13 855.85 471.84 856.02 480.02 856.07C488.19 856.13 491.92 856.35 494.95 856.07C497.98 855.80 497.20 855.52 498.22 854.42C499.24 853.32 499.89 852.02 501.05 849.46C502.22 846.90 503.96 841.39 505.20 839.05C506.43 836.71 507.41 835.64 508.47 835.42C509.52 835.20 510.23 836.35 511.52 837.73C512.81 839.11 514.64 842.41 516.20 843.68C517.77 844.95 519.15 845.44 520.89 845.33C522.64 845.22 524.92 844.29 526.67 843.02C528.41 841.75 529.59 840.54 531.36 837.73C533.12 834.92 535.30 830.43 537.24 826.16C539.19 821.89 541.27 816.00 543.02 812.12C544.76 808.23 546.34 805.01 547.71 802.86C549.07 800.71 550.01 800.11 551.19 799.23C552.37 798.35 553.61 798.54 554.79 797.57C555.97 796.61 557.12 796.09 558.28 793.44C559.44 790.80 560.71 785.21 561.77 781.71C562.82 778.21 563.64 774.47 564.60 772.46C565.56 770.45 566.58 769.26 567.54 769.65C568.51 770.03 569.40 771.58 570.38 774.77C571.36 777.96 572.34 783.36 573.43 788.82C574.52 794.27 575.76 801.65 576.92 807.49C578.08 813.33 579.24 819.58 580.41 823.85C581.57 828.12 582.53 830.57 583.89 833.10C585.26 835.64 586.62 838.01 588.58 839.05C590.54 840.10 593.70 839.00 595.67 839.38C597.63 839.77 598.61 840.07 600.35 841.37C602.10 842.66 604.00 845.41 606.13 847.15C608.26 848.88 610.38 850.62 613.11 851.78C615.83 852.93 618.97 853.62 622.48 854.09C625.99 854.56 631.60 854.67 634.14 854.59C636.69 854.50 636.60 854.03 637.74 853.59C638.88 853.15 640.10 851.97 641.01 851.94C641.92 851.91 642.46 852.69 643.19 853.43C643.92 854.17 643.92 855.80 645.37 856.40C646.82 857.01 649.18 857.34 651.91 857.06C654.63 856.79 658.63 855.49 661.72 854.75C664.81 854.01 668.26 853.65 670.44 852.60C672.62 851.56 674.07 849.16 674.80 848.47" fill="none" stroke="#9c30b8" stroke-width="1.15" stroke-linejoin="round"/>
<path d="M413.42 860.70C413.47 857.26 413.51 842.52 413.75 840.04C413.98 837.57 414.38 844.48 414.83 845.83C415.29 847.18 413.11 847.48 416.47 848.14C419.83 848.80 427.70 849.24 435.00 849.79C442.30 850.34 456.07 851.17 460.29 851.45L460.51 861.53C463.76 861.66 470.93 862.32 480.02 862.35C489.10 862.38 506.83 862.27 515.01 861.69C523.18 861.11 525.16 860.34 529.07 858.88C532.97 857.42 535.92 855.27 538.44 852.93C540.97 850.59 542.47 848.53 544.22 844.84C545.96 841.15 547.54 835.86 548.90 830.79C550.27 825.72 551.23 820.65 552.39 814.43C553.56 808.21 554.72 800.05 555.88 793.44C557.04 786.83 558.32 779.26 559.37 774.77C560.42 770.28 561.22 768.38 562.20 766.51C563.18 764.63 564.24 763.53 565.25 763.53C566.27 763.53 567.33 764.25 568.31 766.51C569.29 768.77 570.09 771.82 571.14 777.08C572.19 782.34 573.47 791.07 574.63 798.07C575.79 805.07 576.75 812.03 578.12 819.06C579.48 826.08 581.24 834.84 582.80 840.21C584.37 845.58 585.75 848.50 587.49 851.28C589.24 854.06 591.32 855.80 593.27 856.90C595.21 858.00 597.39 858.03 599.15 857.89C600.92 857.75 602.37 856.76 603.84 856.07C605.31 855.38 606.62 853.92 607.98 853.76C609.35 853.59 610.38 854.23 612.02 855.08C613.65 855.94 615.65 857.86 617.79 858.88C619.94 859.90 621.19 860.73 624.88 861.20C628.57 861.66 634.32 861.72 639.92 861.69C645.52 861.66 652.64 861.42 658.45 861.03C664.26 860.64 672.07 859.65 674.80 859.38" fill="none" stroke="#3a4cc8" stroke-width="1.15" stroke-linejoin="round"/>
<path d="M413.42 860.70C413.49 856.98 413.62 840.59 413.85 838.39C414.09 836.19 414.22 845.22 414.83 847.48C415.45 849.74 414.20 850.90 417.56 851.94C420.92 852.99 426.17 853.18 435.00 853.76C443.83 854.34 464.61 855.14 470.53 855.41L470.75 860.70C472.30 860.78 474.59 861.31 480.02 861.20C485.45 861.09 496.33 860.81 503.34 860.04C510.36 859.27 517.60 857.75 522.09 856.57C526.58 855.38 527.74 854.81 530.27 852.93C532.79 851.06 535.12 848.64 537.24 845.33C539.37 842.03 541.27 837.87 543.02 833.10C544.76 828.34 546.34 822.58 547.71 816.74C549.07 810.90 550.01 805.45 551.19 798.07C552.37 790.69 553.61 781.41 554.79 772.46C555.97 763.51 557.19 751.97 558.28 744.36C559.37 736.76 560.37 730.54 561.33 726.85C562.29 723.16 563.13 722.33 564.06 722.22C564.98 722.11 565.91 722.69 566.89 726.19C567.87 729.68 568.85 734.72 569.94 743.21C571.03 751.69 572.27 766.76 573.43 777.08C574.59 787.41 575.76 797.00 576.92 805.18C578.08 813.36 579.24 820.52 580.41 826.16C581.57 831.81 582.71 835.75 583.89 839.05C585.07 842.36 586.13 844.26 587.49 845.99C588.85 847.73 590.13 848.69 592.07 849.46C594.01 850.23 596.45 849.85 599.15 850.62C601.86 851.39 604.80 853.07 608.31 854.09C611.82 855.11 614.92 856.13 620.19 856.73C625.46 857.34 633.91 857.67 639.92 857.73C645.93 857.78 651.91 857.48 656.27 857.06C660.63 856.65 662.99 856.29 666.08 855.25C669.17 854.20 673.35 851.53 674.80 850.79" fill="none" stroke="#3cbc3c" stroke-width="1.15" stroke-linejoin="round"/>
<path d="M413.42 860.70C413.47 857.67 413.56 845.28 413.75 842.52C413.93 839.77 414.05 843.79 414.51 844.18C414.96 844.56 413.05 844.51 416.47 844.84C419.89 845.17 426.68 845.66 435.00 846.16C443.32 846.65 461.16 847.54 466.39 847.81L466.61 860.70C468.61 860.76 474.79 860.98 478.60 861.03C482.42 861.09 487.32 861.20 489.50 861.03C491.68 860.87 490.77 860.81 491.68 860.04C492.59 859.27 493.79 857.45 494.95 856.40C496.11 855.36 497.57 853.98 498.66 853.76C499.75 853.54 500.51 854.70 501.49 855.08C502.47 855.47 502.67 856.16 504.54 856.07C506.41 855.99 509.99 855.69 512.72 854.59C515.44 853.48 518.57 851.39 520.89 849.46C523.22 847.54 524.73 845.94 526.67 843.02C528.61 840.10 530.59 836.71 532.55 831.95C534.52 827.18 536.70 821.43 538.44 814.43C540.19 807.43 541.47 799.70 543.02 789.97C544.56 780.25 546.34 765.24 547.71 756.10C549.07 746.95 550.10 740.65 551.19 735.11C552.28 729.57 553.37 725.31 554.25 722.88C555.12 720.46 555.68 720.29 556.43 720.57C557.17 720.84 557.82 720.57 558.72 724.53C559.61 728.50 560.68 735.99 561.77 744.36C562.86 752.74 564.09 765.02 565.25 774.77C566.42 784.52 567.58 794.30 568.74 802.86C569.91 811.43 571.07 819.94 572.23 826.16C573.39 832.39 574.54 836.63 575.72 840.21C576.90 843.79 577.95 845.80 579.32 847.65C580.68 849.49 581.79 850.51 583.89 851.28C586.00 852.05 589.04 851.80 591.96 852.27C594.88 852.74 598.30 853.37 601.44 854.09C604.59 854.81 606.15 855.91 610.82 856.57C615.49 857.23 622.97 857.89 629.46 858.06C635.94 858.22 645.44 858.11 649.73 857.56C654.02 857.01 653.36 856.07 655.18 854.75C657.00 853.43 658.45 851.25 660.63 849.63C662.81 848.00 665.90 846.32 668.26 845.00C670.62 843.68 673.71 842.25 674.80 841.70" fill="none" stroke="#dc4034" stroke-width="1.15" stroke-linejoin="round"/>
<path d="M413.2 695.3V868.7H675.2" fill="none" stroke="#000" stroke-width="1.9"/>
<line x1="406.2" y1="860.70" x2="413.2" y2="860.70" stroke="#000" stroke-width="1.8"/>
<text x="403.0" y="865.00" text-anchor="end" font-size="12.6" font-weight="bold" stroke="#111" stroke-width="0.25">0</text>
<line x1="406.2" y1="827.65" x2="413.2" y2="827.65" stroke="#000" stroke-width="1.8"/>
<text x="403.0" y="831.95" text-anchor="end" font-size="12.6" font-weight="bold" stroke="#111" stroke-width="0.25">20</text>
<line x1="406.2" y1="794.60" x2="413.2" y2="794.60" stroke="#000" stroke-width="1.8"/>
<text x="403.0" y="798.90" text-anchor="end" font-size="12.6" font-weight="bold" stroke="#111" stroke-width="0.25">40</text>
<line x1="406.2" y1="761.55" x2="413.2" y2="761.55" stroke="#000" stroke-width="1.8"/>
<text x="403.0" y="765.85" text-anchor="end" font-size="12.6" font-weight="bold" stroke="#111" stroke-width="0.25">60</text>
<line x1="406.2" y1="728.50" x2="413.2" y2="728.50" stroke="#000" stroke-width="1.8"/>
<text x="403.0" y="732.80" text-anchor="end" font-size="12.6" font-weight="bold" stroke="#111" stroke-width="0.25">80</text>
<line x1="406.2" y1="695.45" x2="413.2" y2="695.45" stroke="#000" stroke-width="1.8"/>
<text x="403.0" y="699.75" text-anchor="end" font-size="12.6" font-weight="bold" stroke="#111" stroke-width="0.25">100</text>
<line x1="413.20" y1="868.7" x2="413.20" y2="876.4" stroke="#000" stroke-width="1.8"/>
<text x="413.20" y="890.8" text-anchor="middle" font-size="12.6" font-weight="bold" stroke="#111" stroke-width="0.25">0</text>
<line x1="456.80" y1="868.7" x2="456.80" y2="876.4" stroke="#000" stroke-width="1.8"/>
<text x="456.80" y="890.8" text-anchor="middle" font-size="12.6" font-weight="bold" stroke="#111" stroke-width="0.25">4</text>
<line x1="500.40" y1="868.7" x2="500.40" y2="876.4" stroke="#000" stroke-width="1.8"/>
<text x="500.40" y="890.8" text-anchor="middle" font-size="12.6" font-weight="bold" stroke="#111" stroke-width="0.25">8</text>
<line x1="544.00" y1="868.7" x2="544.00" y2="876.4" stroke="#000" stroke-width="1.8"/>
<text x="544.00" y="890.8" text-anchor="middle" font-size="12.6" font-weight="bold" stroke="#111" stroke-width="0.25">12</text>
<line x1="587.60" y1="868.7" x2="587.60" y2="876.4" stroke="#000" stroke-width="1.8"/>
<text x="587.60" y="890.8" text-anchor="middle" font-size="12.6" font-weight="bold" stroke="#111" stroke-width="0.25">16</text>
<line x1="631.20" y1="868.7" x2="631.20" y2="876.4" stroke="#000" stroke-width="1.8"/>
<text x="631.20" y="890.8" text-anchor="middle" font-size="12.6" font-weight="bold" stroke="#111" stroke-width="0.25">20</text>
<line x1="674.80" y1="868.7" x2="674.80" y2="876.4" stroke="#000" stroke-width="1.8"/>
<text x="674.80" y="890.8" text-anchor="middle" font-size="12.6" font-weight="bold" stroke="#111" stroke-width="0.25">24</text>
<text x="543.8" y="917.6" text-anchor="middle" font-size="14" font-weight="bold" stroke="#111" stroke-width="0.25">Volume (ml)</text>
<text transform="translate(375,782) rotate(-90)" text-anchor="middle" font-size="13.9" font-weight="bold" stroke="#111" stroke-width="0.25">Abs280 / mAU</text>
<line x1="556" y1="708" x2="556" y2="716.8" stroke="#000" stroke-width="1.6"/>
<text class="mk" x="556.4" y="705.8" text-anchor="middle" font-size="11.2">670</text>
<line x1="585.2" y1="708" x2="585.2" y2="716.8" stroke="#000" stroke-width="1.6"/>
<text class="mk" x="585.6" y="705.8" text-anchor="middle" font-size="11.2">158</text>
<line x1="597.2" y1="773.3" x2="597.2" y2="782.3" stroke="#000" stroke-width="1.6"/>
<text class="mk" x="597.2" y="771" text-anchor="middle" font-size="11.2">44</text>
<line x1="611.9" y1="773.3" x2="611.9" y2="782.3" stroke="#000" stroke-width="1.6"/>
<text class="mk" x="611.9" y="771" text-anchor="middle" font-size="11.2">17</text>
<line x1="633" y1="773.3" x2="633" y2="782.3" stroke="#000" stroke-width="1.6"/>
<text class="mk" x="633" y="771" text-anchor="middle" font-size="11.2">1.4</text>
<text class="mk" x="644.5" y="771" font-size="11.2">(kD)</text>
</g>
</g></svg></body></html>
